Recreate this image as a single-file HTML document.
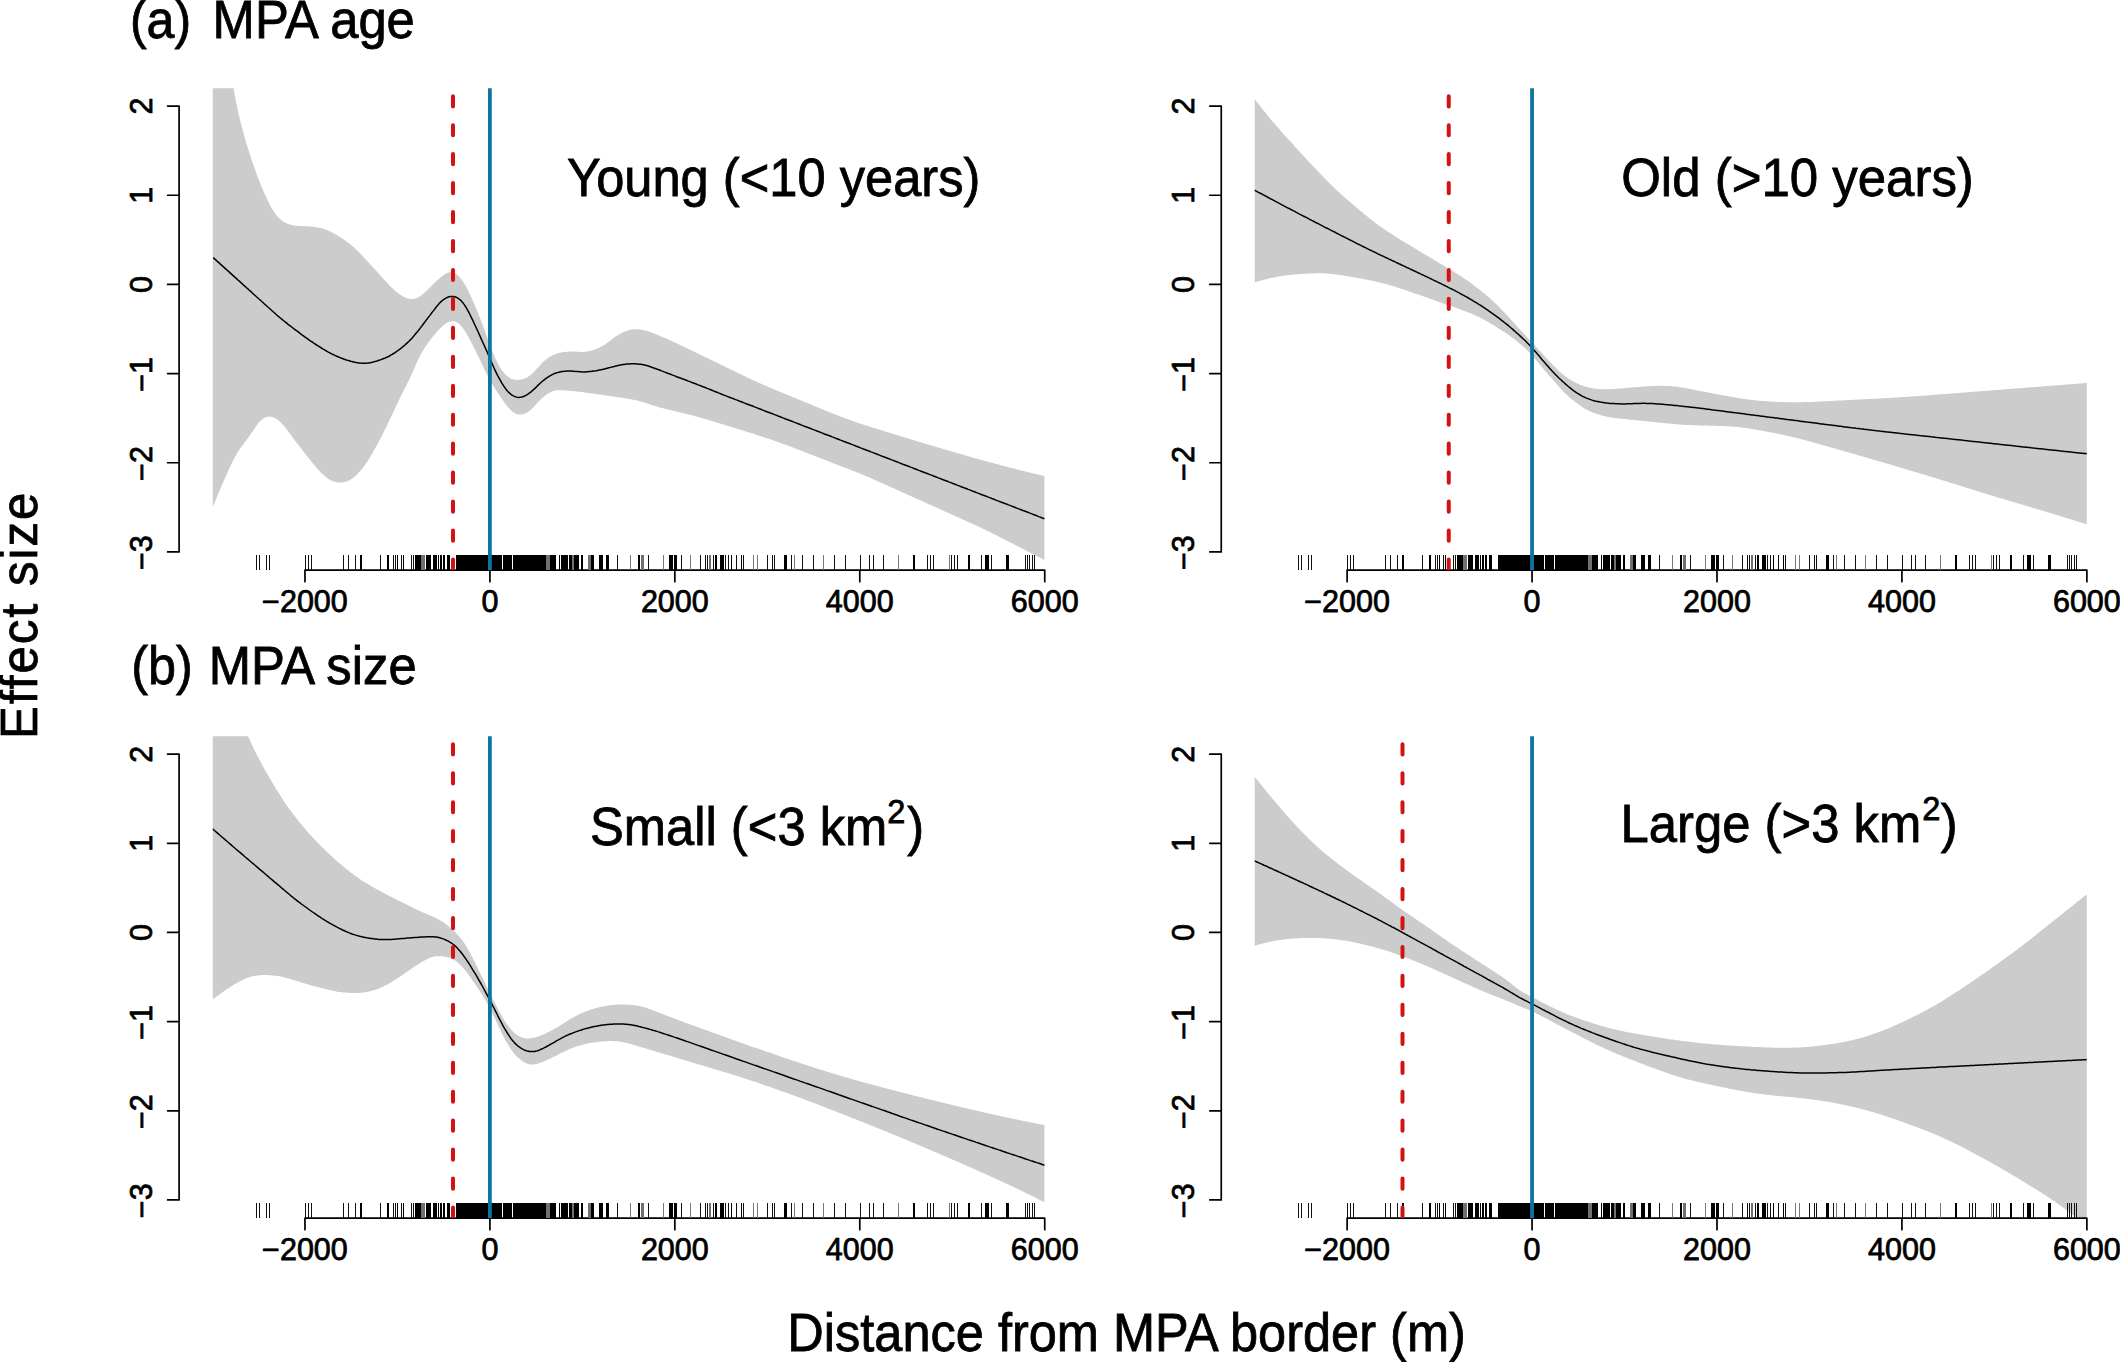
<!DOCTYPE html>
<html lang="en"><head><meta charset="utf-8"><title>MPA effect size</title>
<style>html,body{margin:0;padding:0;background:#fff}svg{display:block}text{font-family:"Liberation Sans",Arial,Helvetica,sans-serif;fill:#000;stroke:#000;stroke-width:0.8px}text.tk{stroke-width:0.75px}</style></head><body>
<svg width="2120" height="1362" viewBox="0 0 2120 1362">
<rect width="2120" height="1362" fill="#fff"/>
<defs>
<clipPath id="cTL"><rect x="212.50" y="88.25" width="832.30" height="481.25"/></clipPath>
<clipPath id="cTR"><rect x="1254.65" y="88.25" width="832.30" height="481.25"/></clipPath>
<clipPath id="cBL"><rect x="212.50" y="736.30" width="832.30" height="481.25"/></clipPath>
<clipPath id="cBR"><rect x="1254.65" y="736.30" width="832.30" height="481.25"/></clipPath>
</defs>
<g clip-path="url(#cTL)">
<path d="M212.5 -59.7L213.9 -51.2L215.3 -42.5L216.7 -33.6L218.1 -24.6L219.4 -15.3L220.8 -5.9L222.2 3.8L223.6 13.8L225.0 24.1L226.4 34.7L227.8 45.6L229.2 56.4L230.6 66.9L231.9 76.9L233.3 86.1L234.7 94.4L236.1 101.9L237.5 108.7L238.9 114.9L240.3 120.8L241.7 126.3L243.1 131.6L244.4 136.6L245.8 141.4L247.2 146.0L248.6 150.5L250.0 154.8L251.4 159.0L252.8 163.1L254.2 167.1L255.6 171.0L256.9 174.8L258.3 178.6L259.7 182.1L261.1 185.6L262.5 189.0L263.9 192.2L265.3 195.3L266.7 198.3L268.1 201.2L269.4 203.9L270.8 206.5L272.2 208.9L273.6 211.2L275.0 213.2L276.4 215.1L277.8 216.7L279.2 218.2L280.6 219.5L281.9 220.6L283.3 221.6L284.7 222.4L286.1 223.1L287.5 223.7L288.9 224.2L290.3 224.6L291.7 225.0L293.1 225.3L294.4 225.5L295.8 225.7L297.2 225.8L298.6 225.9L300.0 226.0L301.4 226.1L302.8 226.2L304.2 226.2L305.6 226.3L307.0 226.3L308.3 226.4L309.7 226.5L311.1 226.6L312.5 226.8L313.9 226.9L315.3 227.1L316.7 227.3L318.1 227.5L319.5 227.8L320.8 228.1L322.2 228.4L323.6 228.8L325.0 229.3L326.4 229.8L327.8 230.4L329.2 231.1L330.6 231.7L332.0 232.5L333.3 233.2L334.7 234.0L336.1 234.8L337.5 235.6L338.9 236.4L340.3 237.3L341.7 238.2L343.1 239.1L344.5 240.0L345.8 240.9L347.2 241.9L348.6 243.0L350.0 244.1L351.4 245.2L352.8 246.4L354.2 247.6L355.6 248.9L357.0 250.2L358.3 251.5L359.7 252.9L361.1 254.4L362.5 255.9L363.9 257.4L365.3 258.9L366.7 260.4L368.1 261.9L369.5 263.5L370.8 265.0L372.2 266.5L373.6 268.1L375.0 269.6L376.4 271.1L377.8 272.6L379.2 274.2L380.6 275.7L382.0 277.2L383.3 278.7L384.7 280.3L386.1 281.8L387.5 283.3L388.9 284.7L390.3 286.2L391.7 287.6L393.1 288.9L394.5 290.2L395.8 291.4L397.2 292.5L398.6 293.6L400.0 294.6L401.4 295.5L402.8 296.3L404.2 297.1L405.6 297.7L407.0 298.3L408.3 298.7L409.7 298.9L411.1 299.1L412.5 299.1L413.9 298.9L415.3 298.6L416.7 298.1L418.1 297.4L419.5 296.6L420.8 295.7L422.2 294.6L423.6 293.5L425.0 292.2L426.4 290.9L427.8 289.6L429.2 288.3L430.6 286.9L432.0 285.5L433.3 284.2L434.7 282.8L436.1 281.4L437.5 280.1L438.9 278.9L440.3 277.6L441.7 276.5L443.1 275.4L444.5 274.5L445.8 273.6L447.2 273.0L448.6 272.5L450.0 272.2L451.4 272.2L452.8 272.4L454.2 272.9L455.6 273.6L457.0 274.6L458.3 275.8L459.7 277.2L461.1 278.9L462.5 280.8L463.9 283.0L465.3 285.3L466.7 287.8L468.1 290.5L469.5 293.4L470.9 296.3L472.2 299.4L473.6 302.6L475.0 305.8L476.4 309.2L477.8 312.6L479.2 316.0L480.6 319.5L482.0 323.1L483.4 326.8L484.7 330.6L486.1 334.4L487.5 338.3L488.9 342.1L490.3 345.9L491.7 349.6L493.1 353.1L494.5 356.3L495.9 359.4L497.2 362.2L498.6 364.8L500.0 367.2L501.4 369.4L502.8 371.4L504.2 373.1L505.6 374.7L507.0 376.0L508.4 377.1L509.7 378.0L511.1 378.7L512.5 379.2L513.9 379.6L515.3 379.8L516.7 379.9L518.1 379.9L519.5 379.8L520.9 379.6L522.2 379.3L523.6 378.8L525.0 378.3L526.4 377.7L527.8 376.9L529.2 376.1L530.6 375.0L532.0 373.8L533.4 372.5L534.7 371.1L536.1 369.5L537.5 368.0L538.9 366.4L540.3 364.9L541.7 363.4L543.1 362.1L544.5 360.8L545.9 359.7L547.2 358.6L548.6 357.7L550.0 356.8L551.4 356.0L552.8 355.3L554.2 354.6L555.6 354.0L557.0 353.5L558.4 353.1L559.7 352.8L561.1 352.5L562.5 352.3L563.9 352.1L565.3 351.9L566.7 351.8L568.1 351.7L569.5 351.6L570.9 351.6L572.2 351.6L573.6 351.6L575.0 351.6L576.4 351.7L577.8 351.7L579.2 351.8L580.6 351.9L582.0 351.9L583.4 351.9L584.7 351.8L586.1 351.7L587.5 351.5L588.9 351.3L590.3 351.0L591.7 350.6L593.1 350.2L594.5 349.7L595.9 349.2L597.2 348.6L598.6 348.0L600.0 347.3L601.4 346.5L602.8 345.7L604.2 344.9L605.6 343.9L607.0 342.9L608.4 341.9L609.7 340.9L611.1 339.9L612.5 338.8L613.9 337.8L615.3 336.8L616.7 335.9L618.1 335.0L619.5 334.2L620.9 333.5L622.2 332.8L623.6 332.1L625.0 331.5L626.4 331.0L627.8 330.5L629.2 330.1L630.6 329.7L632.0 329.5L633.4 329.3L634.8 329.2L636.1 329.2L637.5 329.2L638.9 329.3L640.3 329.5L641.7 329.8L643.1 330.0L644.5 330.4L645.9 330.7L647.3 331.1L648.6 331.5L650.0 332.0L651.4 332.4L652.8 332.9L654.2 333.5L655.6 334.0L657.0 334.6L658.4 335.2L659.8 335.8L661.1 336.4L662.5 336.9L663.9 337.5L665.3 338.1L666.7 338.7L668.1 339.4L669.5 340.0L670.9 340.6L672.3 341.2L673.6 341.9L675.0 342.5L676.4 343.2L677.8 343.8L679.2 344.5L680.6 345.2L682.0 345.8L683.4 346.5L684.8 347.2L686.1 347.8L687.5 348.5L688.9 349.2L690.3 349.8L691.7 350.5L693.1 351.2L694.5 351.8L695.9 352.5L697.3 353.2L698.6 353.8L700.0 354.5L701.4 355.2L702.8 355.9L704.2 356.5L705.6 357.2L707.0 357.9L708.4 358.6L709.8 359.2L711.1 359.9L712.5 360.6L713.9 361.3L715.3 361.9L716.7 362.6L718.1 363.3L719.5 364.0L720.9 364.7L722.3 365.3L723.6 366.0L725.0 366.7L726.4 367.4L727.8 368.0L729.2 368.7L730.6 369.4L732.0 370.1L733.4 370.7L734.8 371.4L736.1 372.1L737.5 372.8L738.9 373.4L740.3 374.1L741.7 374.8L743.1 375.4L744.5 376.1L745.9 376.8L747.3 377.4L748.6 378.1L750.0 378.8L751.4 379.4L752.8 380.1L754.2 380.7L755.6 381.3L757.0 382.0L758.4 382.6L759.8 383.2L761.1 383.8L762.5 384.4L763.9 385.0L765.3 385.6L766.7 386.2L768.1 386.8L769.5 387.4L770.9 388.0L772.3 388.6L773.6 389.2L775.0 389.8L776.4 390.3L777.8 390.9L779.2 391.5L780.6 392.1L782.0 392.6L783.4 393.2L784.8 393.8L786.1 394.3L787.5 394.9L788.9 395.5L790.3 396.0L791.7 396.6L793.1 397.2L794.5 397.7L795.9 398.3L797.3 398.9L798.7 399.4L800.0 400.0L801.4 400.6L802.8 401.2L804.2 401.7L805.6 402.3L807.0 402.9L808.4 403.5L809.8 404.1L811.2 404.6L812.5 405.2L813.9 405.8L815.3 406.4L816.7 407.0L818.1 407.5L819.5 408.1L820.9 408.7L822.3 409.2L823.7 409.8L825.0 410.4L826.4 410.9L827.8 411.5L829.2 412.1L830.6 412.6L832.0 413.2L833.4 413.7L834.8 414.3L836.2 414.8L837.5 415.3L838.9 415.9L840.3 416.4L841.7 416.9L843.1 417.5L844.5 418.0L845.9 418.5L847.3 419.0L848.7 419.5L850.0 420.0L851.4 420.5L852.8 421.0L854.2 421.5L855.6 421.9L857.0 422.4L858.4 422.9L859.8 423.4L861.2 423.8L862.5 424.3L863.9 424.8L865.3 425.2L866.7 425.7L868.1 426.1L869.5 426.6L870.9 427.0L872.3 427.4L873.7 427.9L875.0 428.3L876.4 428.8L877.8 429.2L879.2 429.6L880.6 430.1L882.0 430.5L883.4 430.9L884.8 431.4L886.2 431.8L887.5 432.2L888.9 432.6L890.3 433.1L891.7 433.5L893.1 433.9L894.5 434.3L895.9 434.7L897.3 435.2L898.7 435.6L900.0 436.0L901.4 436.4L902.8 436.9L904.2 437.3L905.6 437.7L907.0 438.1L908.4 438.5L909.8 439.0L911.2 439.4L912.5 439.8L913.9 440.2L915.3 440.7L916.7 441.1L918.1 441.5L919.5 441.9L920.9 442.3L922.3 442.7L923.7 443.2L925.0 443.6L926.4 444.0L927.8 444.4L929.2 444.8L930.6 445.3L932.0 445.7L933.4 446.1L934.8 446.5L936.2 446.9L937.5 447.3L938.9 447.7L940.3 448.1L941.7 448.6L943.1 449.0L944.5 449.4L945.9 449.8L947.3 450.2L948.7 450.6L950.0 451.0L951.4 451.4L952.8 451.8L954.2 452.2L955.6 452.6L957.0 453.0L958.4 453.4L959.8 453.8L961.2 454.2L962.6 454.6L963.9 455.0L965.3 455.4L966.7 455.8L968.1 456.2L969.5 456.6L970.9 457.0L972.3 457.4L973.7 457.8L975.1 458.2L976.4 458.6L977.8 458.9L979.2 459.3L980.6 459.7L982.0 460.1L983.4 460.5L984.8 460.9L986.2 461.2L987.6 461.6L988.9 462.0L990.3 462.4L991.7 462.8L993.1 463.1L994.5 463.5L995.9 463.9L997.3 464.3L998.7 464.6L1000.1 465.0L1001.4 465.4L1002.8 465.7L1004.2 466.1L1005.6 466.5L1007.0 466.8L1008.4 467.2L1009.8 467.6L1011.2 467.9L1012.6 468.3L1013.9 468.6L1015.3 469.0L1016.7 469.3L1018.1 469.7L1019.5 470.0L1020.9 470.4L1022.3 470.7L1023.7 471.0L1025.1 471.4L1026.4 471.7L1027.8 472.1L1029.2 472.4L1030.6 472.7L1032.0 473.1L1033.4 473.4L1034.8 473.7L1036.2 474.1L1037.6 474.4L1038.9 474.7L1040.3 475.0L1041.7 475.4L1043.1 475.7L1044.5 476.0L1044.5 560.0L1043.1 559.3L1041.7 558.6L1040.3 557.8L1038.9 557.1L1037.6 556.4L1036.2 555.7L1034.8 555.0L1033.4 554.3L1032.0 553.6L1030.6 552.9L1029.2 552.2L1027.8 551.4L1026.4 550.7L1025.1 550.0L1023.7 549.3L1022.3 548.6L1020.9 547.9L1019.5 547.2L1018.1 546.5L1016.7 545.7L1015.3 545.0L1013.9 544.3L1012.6 543.6L1011.2 542.9L1009.8 542.2L1008.4 541.4L1007.0 540.7L1005.6 540.0L1004.2 539.3L1002.8 538.6L1001.4 537.9L1000.1 537.2L998.7 536.5L997.3 535.7L995.9 535.0L994.5 534.3L993.1 533.7L991.7 533.0L990.3 532.3L988.9 531.6L987.6 530.9L986.2 530.2L984.8 529.6L983.4 528.9L982.0 528.2L980.6 527.6L979.2 526.9L977.8 526.3L976.4 525.7L975.1 525.0L973.7 524.4L972.3 523.8L970.9 523.1L969.5 522.5L968.1 521.9L966.7 521.3L965.3 520.6L963.9 520.0L962.6 519.4L961.2 518.8L959.8 518.1L958.4 517.5L957.0 516.9L955.6 516.3L954.2 515.6L952.8 515.0L951.4 514.4L950.0 513.8L948.7 513.1L947.3 512.5L945.9 511.9L944.5 511.3L943.1 510.6L941.7 510.0L940.3 509.4L938.9 508.8L937.5 508.1L936.2 507.5L934.8 506.9L933.4 506.3L932.0 505.6L930.6 505.0L929.2 504.4L927.8 503.8L926.4 503.1L925.0 502.5L923.7 501.9L922.3 501.3L920.9 500.6L919.5 500.0L918.1 499.4L916.7 498.8L915.3 498.1L913.9 497.5L912.5 496.9L911.2 496.3L909.8 495.6L908.4 495.0L907.0 494.4L905.6 493.8L904.2 493.1L902.8 492.5L901.4 491.9L900.0 491.3L898.7 490.6L897.3 490.0L895.9 489.4L894.5 488.8L893.1 488.1L891.7 487.5L890.3 486.9L888.9 486.3L887.5 485.6L886.2 485.0L884.8 484.4L883.4 483.8L882.0 483.1L880.6 482.5L879.2 481.9L877.8 481.3L876.4 480.7L875.0 480.0L873.7 479.4L872.3 478.8L870.9 478.2L869.5 477.6L868.1 477.0L866.7 476.4L865.3 475.8L863.9 475.2L862.5 474.7L861.2 474.1L859.8 473.5L858.4 473.0L857.0 472.4L855.6 471.8L854.2 471.3L852.8 470.7L851.4 470.2L850.0 469.7L848.7 469.1L847.3 468.6L845.9 468.0L844.5 467.5L843.1 467.0L841.7 466.4L840.3 465.9L838.9 465.4L837.5 464.8L836.2 464.3L834.8 463.8L833.4 463.2L832.0 462.7L830.6 462.2L829.2 461.6L827.8 461.1L826.4 460.6L825.0 460.0L823.7 459.5L822.3 458.9L820.9 458.4L819.5 457.8L818.1 457.3L816.7 456.8L815.3 456.2L813.9 455.7L812.5 455.1L811.2 454.6L809.8 454.0L808.4 453.5L807.0 453.0L805.6 452.4L804.2 451.9L802.8 451.3L801.4 450.8L800.0 450.3L798.7 449.7L797.3 449.2L795.9 448.7L794.5 448.1L793.1 447.6L791.7 447.1L790.3 446.6L788.9 446.1L787.5 445.5L786.1 445.0L784.8 444.5L783.4 444.0L782.0 443.5L780.6 443.0L779.2 442.5L777.8 442.0L776.4 441.5L775.0 441.0L773.6 440.5L772.3 440.1L770.9 439.6L769.5 439.1L768.1 438.6L766.7 438.2L765.3 437.7L763.9 437.2L762.5 436.8L761.1 436.3L759.8 435.9L758.4 435.4L757.0 435.0L755.6 434.5L754.2 434.1L752.8 433.6L751.4 433.2L750.0 432.8L748.6 432.3L747.3 431.9L745.9 431.5L744.5 431.0L743.1 430.6L741.7 430.2L740.3 429.7L738.9 429.3L737.5 428.9L736.1 428.4L734.8 428.0L733.4 427.6L732.0 427.2L730.6 426.7L729.2 426.3L727.8 425.9L726.4 425.4L725.0 425.0L723.6 424.6L722.3 424.2L720.9 423.7L719.5 423.3L718.1 422.9L716.7 422.5L715.3 422.0L713.9 421.6L712.5 421.2L711.1 420.8L709.8 420.4L708.4 419.9L707.0 419.5L705.6 419.1L704.2 418.7L702.8 418.3L701.4 417.9L700.0 417.5L698.6 417.1L697.3 416.8L695.9 416.4L694.5 416.0L693.1 415.6L691.7 415.3L690.3 414.9L688.9 414.6L687.5 414.2L686.1 413.9L684.8 413.5L683.4 413.2L682.0 412.9L680.6 412.5L679.2 412.2L677.8 411.9L676.4 411.5L675.0 411.2L673.6 410.9L672.3 410.5L670.9 410.2L669.5 409.9L668.1 409.5L666.7 409.2L665.3 408.8L663.9 408.5L662.5 408.1L661.1 407.8L659.8 407.4L658.4 407.0L657.0 406.6L655.6 406.2L654.2 405.7L652.8 405.3L651.4 404.9L650.0 404.4L648.6 403.9L647.3 403.5L645.9 403.0L644.5 402.6L643.1 402.2L641.7 401.8L640.3 401.4L638.9 401.0L637.5 400.6L636.1 400.3L634.8 400.0L633.4 399.7L632.0 399.5L630.6 399.2L629.2 398.9L627.8 398.7L626.4 398.5L625.0 398.2L623.6 398.0L622.2 397.8L620.9 397.6L619.5 397.4L618.1 397.2L616.7 397.0L615.3 396.8L613.9 396.6L612.5 396.4L611.1 396.2L609.7 396.0L608.4 395.8L607.0 395.6L605.6 395.4L604.2 395.2L602.8 395.0L601.4 394.8L600.0 394.6L598.6 394.4L597.2 394.2L595.9 394.0L594.5 393.8L593.1 393.6L591.7 393.4L590.3 393.2L588.9 393.0L587.5 392.9L586.1 392.7L584.7 392.5L583.4 392.3L582.0 392.1L580.6 392.0L579.2 391.8L577.8 391.6L576.4 391.5L575.0 391.3L573.6 391.2L572.2 391.1L570.9 390.9L569.5 390.8L568.1 390.7L566.7 390.6L565.3 390.4L563.9 390.3L562.5 390.3L561.1 390.2L559.7 390.2L558.4 390.2L557.0 390.3L555.6 390.5L554.2 390.8L552.8 391.2L551.4 391.7L550.0 392.4L548.6 393.2L547.2 394.1L545.9 395.1L544.5 396.2L543.1 397.3L541.7 398.6L540.3 399.9L538.9 401.3L537.5 402.8L536.1 404.3L534.7 405.8L533.4 407.2L532.0 408.6L530.6 410.0L529.2 411.1L527.8 412.1L526.4 412.9L525.0 413.6L523.6 414.1L522.2 414.4L520.9 414.5L519.5 414.5L518.1 414.3L516.7 414.0L515.3 413.4L513.9 412.7L512.5 411.7L511.1 410.5L509.7 409.1L508.4 407.6L507.0 405.9L505.6 404.1L504.2 402.2L502.8 400.3L501.4 398.3L500.0 396.2L498.6 394.2L497.2 392.0L495.9 389.9L494.5 387.7L493.1 385.4L491.7 383.1L490.3 380.7L488.9 378.2L487.5 375.6L486.1 372.9L484.7 370.1L483.4 367.2L482.0 364.3L480.6 361.3L479.2 358.3L477.8 355.4L476.4 352.5L475.0 349.6L473.6 346.9L472.2 344.2L470.9 341.5L469.5 339.0L468.1 336.5L466.7 334.1L465.3 331.8L463.9 329.6L462.5 327.7L461.1 326.0L459.7 324.5L458.3 323.3L457.0 322.4L455.6 321.7L454.2 321.3L452.8 321.2L451.4 321.2L450.0 321.5L448.6 321.9L447.2 322.6L445.8 323.4L444.5 324.4L443.1 325.6L441.7 326.9L440.3 328.2L438.9 329.7L437.5 331.2L436.1 332.8L434.7 334.4L433.3 336.1L432.0 337.8L430.6 339.5L429.2 341.3L427.8 343.2L426.4 345.2L425.0 347.2L423.6 349.4L422.2 351.7L420.8 354.2L419.5 356.9L418.1 359.8L416.7 362.8L415.3 366.0L413.9 369.2L412.5 372.4L411.1 375.5L409.7 378.5L408.3 381.4L407.0 384.1L405.6 386.9L404.2 389.6L402.8 392.3L401.4 395.1L400.0 398.0L398.6 400.9L397.2 403.9L395.8 406.8L394.5 409.8L393.1 412.7L391.7 415.6L390.3 418.5L388.9 421.4L387.5 424.3L386.1 427.2L384.7 430.0L383.3 432.8L382.0 435.5L380.6 438.2L379.2 440.8L377.8 443.5L376.4 446.0L375.0 448.6L373.6 451.0L372.2 453.5L370.8 455.9L369.5 458.2L368.1 460.4L366.7 462.5L365.3 464.5L363.9 466.4L362.5 468.2L361.1 469.9L359.7 471.5L358.3 473.0L357.0 474.4L355.6 475.7L354.2 476.9L352.8 478.0L351.4 479.0L350.0 479.9L348.6 480.6L347.2 481.2L345.8 481.7L344.5 482.1L343.1 482.4L341.7 482.5L340.3 482.6L338.9 482.5L337.5 482.4L336.1 482.1L334.7 481.8L333.3 481.4L332.0 480.8L330.6 480.2L329.2 479.4L327.8 478.5L326.4 477.4L325.0 476.3L323.6 475.1L322.2 473.8L320.8 472.4L319.5 470.9L318.1 469.4L316.7 467.8L315.3 466.2L313.9 464.6L312.5 462.9L311.1 461.2L309.7 459.5L308.3 457.7L307.0 456.0L305.6 454.2L304.2 452.4L302.8 450.6L301.4 448.9L300.0 447.1L298.6 445.3L297.2 443.6L295.8 441.8L294.4 440.0L293.1 438.1L291.7 436.2L290.3 434.2L288.9 432.3L287.5 430.4L286.1 428.6L284.7 426.8L283.3 425.2L281.9 423.7L280.6 422.2L279.2 421.0L277.8 419.8L276.4 418.9L275.0 418.1L273.6 417.5L272.2 417.0L270.8 416.8L269.4 416.7L268.1 416.8L266.7 417.0L265.3 417.5L263.9 418.2L262.5 419.1L261.1 420.2L259.7 421.6L258.3 423.2L256.9 425.0L255.6 426.9L254.2 428.9L252.8 431.0L251.4 433.0L250.0 435.1L248.6 437.1L247.2 439.1L245.8 441.0L244.4 442.8L243.1 444.6L241.7 446.5L240.3 448.4L238.9 450.4L237.5 452.6L236.1 454.9L234.7 457.4L233.3 460.1L231.9 462.9L230.6 465.8L229.2 468.7L227.8 471.8L226.4 474.9L225.0 478.1L223.6 481.2L222.2 484.4L220.8 487.6L219.4 490.9L218.1 494.2L216.7 497.5L215.3 500.8L213.9 504.2L212.5 507.6Z" fill="#cccccc"/>
<path d="M213.2 257.6L214.6 258.9L216.0 260.1L217.4 261.4L218.8 262.6L220.1 263.9L221.5 265.1L222.9 266.4L224.3 267.6L225.7 268.9L227.1 270.1L228.5 271.4L229.9 272.6L231.2 273.9L232.6 275.1L234.0 276.4L235.4 277.6L236.8 278.9L238.2 280.2L239.6 281.4L241.0 282.7L242.3 283.9L243.7 285.2L245.1 286.4L246.5 287.7L247.9 288.9L249.3 290.2L250.7 291.4L252.1 292.7L253.4 294.0L254.8 295.2L256.2 296.5L257.6 297.7L259.0 299.0L260.4 300.2L261.8 301.5L263.2 302.7L264.5 304.0L265.9 305.3L267.3 306.5L268.7 307.8L270.1 309.0L271.5 310.3L272.9 311.5L274.3 312.7L275.7 314.0L277.0 315.2L278.4 316.4L279.8 317.5L281.2 318.7L282.6 319.8L284.0 321.0L285.4 322.1L286.8 323.2L288.1 324.3L289.5 325.4L290.9 326.4L292.3 327.5L293.7 328.6L295.1 329.6L296.5 330.7L297.9 331.7L299.2 332.7L300.6 333.8L302.0 334.8L303.4 335.8L304.8 336.8L306.2 337.8L307.6 338.8L309.0 339.8L310.3 340.8L311.7 341.7L313.1 342.7L314.5 343.6L315.9 344.5L317.3 345.4L318.7 346.3L320.1 347.2L321.4 348.0L322.8 348.9L324.2 349.7L325.6 350.5L327.0 351.3L328.4 352.1L329.8 352.8L331.2 353.6L332.6 354.3L333.9 354.9L335.3 355.6L336.7 356.2L338.1 356.8L339.5 357.4L340.9 358.0L342.3 358.5L343.7 359.0L345.0 359.5L346.4 360.0L347.8 360.4L349.2 360.8L350.6 361.2L352.0 361.6L353.4 361.9L354.8 362.2L356.1 362.5L357.5 362.7L358.9 362.9L360.3 363.1L361.7 363.2L363.1 363.2L364.5 363.3L365.9 363.2L367.2 363.1L368.6 362.9L370.0 362.7L371.4 362.5L372.8 362.1L374.2 361.8L375.6 361.4L377.0 361.0L378.3 360.5L379.7 360.0L381.1 359.6L382.5 359.0L383.9 358.5L385.3 358.0L386.7 357.3L388.1 356.7L389.5 356.0L390.8 355.2L392.2 354.4L393.6 353.5L395.0 352.6L396.4 351.6L397.8 350.7L399.2 349.6L400.6 348.6L401.9 347.5L403.3 346.4L404.7 345.2L406.1 343.9L407.5 342.6L408.9 341.3L410.3 339.9L411.7 338.4L413.0 336.9L414.4 335.3L415.8 333.6L417.2 331.9L418.6 330.2L420.0 328.4L421.4 326.6L422.8 324.8L424.1 323.0L425.5 321.1L426.9 319.3L428.3 317.4L429.7 315.6L431.1 313.7L432.5 311.9L433.9 310.1L435.3 308.3L436.6 306.5L438.0 304.9L439.4 303.3L440.8 301.9L442.2 300.7L443.6 299.6L445.0 298.6L446.4 297.8L447.7 297.2L449.1 296.8L450.5 296.5L451.9 296.4L453.3 296.5L454.7 296.8L456.1 297.3L457.5 297.9L458.8 298.8L460.2 299.9L461.6 301.3L463.0 302.9L464.4 304.8L465.8 307.0L467.2 309.3L468.6 311.8L469.9 314.5L471.3 317.3L472.7 320.2L474.1 323.2L475.5 326.3L476.9 329.3L478.3 332.3L479.7 335.4L481.0 338.4L482.4 341.5L483.8 344.5L485.2 347.6L486.6 350.7L488.0 353.9L489.4 357.2L490.8 360.4L492.2 363.7L493.5 366.8L494.9 369.9L496.3 372.8L497.7 375.6L499.1 378.2L500.5 380.7L501.9 383.1L503.3 385.3L504.6 387.3L506.0 389.2L507.4 390.9L508.8 392.4L510.2 393.7L511.6 394.8L513.0 395.7L514.4 396.4L515.7 396.9L517.1 397.2L518.5 397.4L519.9 397.3L521.3 397.1L522.7 396.8L524.1 396.2L525.5 395.6L526.8 394.8L528.2 393.9L529.6 392.9L531.0 391.8L532.4 390.6L533.8 389.4L535.2 388.1L536.6 386.7L537.9 385.4L539.3 384.0L540.7 382.7L542.1 381.5L543.5 380.4L544.9 379.3L546.3 378.2L547.7 377.3L549.1 376.4L550.4 375.6L551.8 374.8L553.2 374.1L554.6 373.5L556.0 373.0L557.4 372.6L558.8 372.2L560.2 371.9L561.5 371.6L562.9 371.4L564.3 371.3L565.7 371.2L567.1 371.1L568.5 371.1L569.9 371.1L571.3 371.1L572.6 371.2L574.0 371.3L575.4 371.4L576.8 371.5L578.2 371.6L579.6 371.7L581.0 371.8L582.4 371.9L583.7 371.9L585.1 371.9L586.5 371.8L587.9 371.7L589.3 371.6L590.7 371.5L592.1 371.3L593.5 371.1L594.8 370.9L596.2 370.7L597.6 370.4L599.0 370.1L600.4 369.9L601.8 369.6L603.2 369.2L604.6 368.9L606.0 368.6L607.3 368.2L608.7 367.8L610.1 367.5L611.5 367.1L612.9 366.7L614.3 366.4L615.7 366.0L617.1 365.7L618.4 365.4L619.8 365.1L621.2 364.9L622.6 364.6L624.0 364.4L625.4 364.2L626.8 364.1L628.2 364.0L629.5 363.9L630.9 363.8L632.3 363.8L633.7 363.8L635.1 363.8L636.5 363.9L637.9 364.0L639.3 364.2L640.6 364.3L642.0 364.5L643.4 364.8L644.8 365.1L646.2 365.4L647.6 365.8L649.0 366.3L650.4 366.7L651.7 367.2L653.1 367.7L654.5 368.2L655.9 368.7L657.3 369.3L658.7 369.8L660.1 370.3L661.5 370.9L662.9 371.4L664.2 371.9L665.6 372.4L667.0 373.0L668.4 373.5L669.8 374.0L671.2 374.5L672.6 375.1L674.0 375.6L675.3 376.1L676.7 376.7L678.1 377.2L679.5 377.7L680.9 378.2L682.3 378.8L683.7 379.3L685.1 379.8L686.4 380.3L687.8 380.9L689.2 381.4L690.6 381.9L692.0 382.5L693.4 383.0L694.8 383.5L696.2 384.0L697.5 384.6L698.9 385.1L700.3 385.6L701.7 386.2L703.1 386.7L704.5 387.3L705.9 387.8L707.3 388.4L708.6 388.9L710.0 389.5L711.4 390.0L712.8 390.6L714.2 391.2L715.6 391.7L717.0 392.3L718.4 392.9L719.8 393.4L721.1 394.0L722.5 394.5L723.9 395.1L725.3 395.6L726.7 396.1L728.1 396.7L729.5 397.2L730.9 397.8L732.2 398.3L733.6 398.8L735.0 399.4L736.4 399.9L737.8 400.4L739.2 401.0L740.6 401.5L742.0 402.0L743.3 402.6L744.7 403.1L746.1 403.7L747.5 404.2L748.9 404.7L750.3 405.3L751.7 405.8L753.1 406.3L754.4 406.9L755.8 407.4L757.2 407.9L758.6 408.5L760.0 409.0L761.4 409.5L762.8 410.1L764.2 410.6L765.5 411.2L766.9 411.7L768.3 412.2L769.7 412.8L771.1 413.3L772.5 413.8L773.9 414.4L775.3 414.9L776.7 415.4L778.0 416.0L779.4 416.5L780.8 417.0L782.2 417.6L783.6 418.1L785.0 418.7L786.4 419.2L787.8 419.7L789.1 420.3L790.5 420.8L791.9 421.3L793.3 421.9L794.7 422.4L796.1 422.9L797.5 423.5L798.9 424.0L800.2 424.5L801.6 425.1L803.0 425.6L804.4 426.2L805.8 426.7L807.2 427.2L808.6 427.8L810.0 428.3L811.3 428.8L812.7 429.4L814.1 429.9L815.5 430.4L816.9 431.0L818.3 431.5L819.7 432.0L821.1 432.6L822.4 433.1L823.8 433.7L825.2 434.2L826.6 434.7L828.0 435.3L829.4 435.8L830.8 436.3L832.2 436.9L833.6 437.4L834.9 437.9L836.3 438.5L837.7 439.0L839.1 439.5L840.5 440.1L841.9 440.6L843.3 441.2L844.7 441.7L846.0 442.2L847.4 442.8L848.8 443.3L850.2 443.8L851.6 444.4L853.0 444.9L854.4 445.4L855.8 446.0L857.1 446.5L858.5 447.0L859.9 447.6L861.3 448.1L862.7 448.7L864.1 449.2L865.5 449.7L866.9 450.3L868.2 450.8L869.6 451.3L871.0 451.9L872.4 452.4L873.8 452.9L875.2 453.5L876.6 454.0L878.0 454.5L879.4 455.1L880.7 455.6L882.1 456.2L883.5 456.7L884.9 457.2L886.3 457.8L887.7 458.3L889.1 458.8L890.5 459.4L891.8 459.9L893.2 460.4L894.6 461.0L896.0 461.5L897.4 462.0L898.8 462.6L900.2 463.1L901.6 463.7L902.9 464.2L904.3 464.7L905.7 465.3L907.1 465.8L908.5 466.3L909.9 466.9L911.3 467.4L912.7 467.9L914.0 468.5L915.4 469.0L916.8 469.5L918.2 470.1L919.6 470.6L921.0 471.2L922.4 471.7L923.8 472.2L925.1 472.8L926.5 473.3L927.9 473.8L929.3 474.4L930.7 474.9L932.1 475.4L933.5 476.0L934.9 476.5L936.3 477.0L937.6 477.6L939.0 478.1L940.4 478.6L941.8 479.2L943.2 479.7L944.6 480.3L946.0 480.8L947.4 481.3L948.7 481.9L950.1 482.4L951.5 482.9L952.9 483.5L954.3 484.0L955.7 484.5L957.1 485.1L958.5 485.6L959.8 486.1L961.2 486.7L962.6 487.2L964.0 487.8L965.4 488.3L966.8 488.8L968.2 489.4L969.6 489.9L970.9 490.4L972.3 491.0L973.7 491.5L975.1 492.0L976.5 492.6L977.9 493.1L979.3 493.6L980.7 494.2L982.0 494.7L983.4 495.3L984.8 495.8L986.2 496.3L987.6 496.9L989.0 497.4L990.4 497.9L991.8 498.5L993.2 499.0L994.5 499.5L995.9 500.1L997.3 500.6L998.7 501.1L1000.1 501.7L1001.5 502.2L1002.9 502.7L1004.3 503.3L1005.6 503.8L1007.0 504.3L1008.4 504.9L1009.8 505.4L1011.2 505.9L1012.6 506.5L1014.0 507.0L1015.4 507.5L1016.7 508.1L1018.1 508.6L1019.5 509.1L1020.9 509.7L1022.3 510.2L1023.7 510.7L1025.1 511.3L1026.5 511.8L1027.8 512.3L1029.2 512.9L1030.6 513.4L1032.0 513.9L1033.4 514.5L1034.8 515.0L1036.2 515.5L1037.6 516.1L1038.9 516.6L1040.3 517.1L1041.7 517.7L1043.1 518.2L1044.5 518.7" fill="none" stroke="#000" stroke-width="1.5"/>
</g>
<path d="M179.10 106.10V551.90M179.10 551.90H167.60M179.10 462.74H167.60M179.10 373.58H167.60M179.10 284.42H167.60M179.10 195.26H167.60M179.10 106.10H167.60M304.96 570.10H1044.74M304.96 570.10V581.70M489.90 570.10V581.70M674.84 570.10V581.70M859.79 570.10V581.70M1044.73 570.10V581.70" fill="none" stroke="#000" stroke-width="1.7" stroke-linecap="round" stroke-linejoin="round"/>
<g transform="translate(0.00 0.00)"><g shape-rendering="crispEdges" stroke="none"><path d="M256 555h1v15h-1zM259 555h1v15h-1zM266 555h1v15h-1zM269 555h1v15h-1zM305 555h1v15h-1zM308 555h1v15h-1zM311 555h1v15h-1zM343 555h1v15h-1zM348 555h1v15h-1zM355 555h1v15h-1zM380 555h1v15h-1zM393 555h1v15h-1zM395 555h1v15h-1zM401 555h1v15h-1zM411 555h1v15h-1zM413 555h1v15h-1zM617 555h1v15h-1zM648 555h1v15h-1zM681 555h1v15h-1zM700 555h1v15h-1zM705 555h1v15h-1zM707 555h1v15h-1zM713 555h1v15h-1zM725 555h1v15h-1zM728 555h1v15h-1zM736 555h1v15h-1zM741 555h1v15h-1zM743 555h1v15h-1zM767 555h1v15h-1zM772 555h1v15h-1zM774 555h1v15h-1zM791 555h1v15h-1zM802 555h1v15h-1zM813 555h1v15h-1zM834 555h1v15h-1zM845 555h1v15h-1zM860 555h1v15h-1zM869 555h1v15h-1zM873 555h1v15h-1zM883 555h1v15h-1zM927 555h1v15h-1zM930 555h1v15h-1zM933 555h1v15h-1zM951 555h1v15h-1zM954 555h1v15h-1zM957 555h1v15h-1zM981 555h1v15h-1zM991 555h1v15h-1zM1025 555h1v15h-1zM1027 555h1v15h-1zM1029 555h1v15h-1zM1032 555h1v15h-1zM1034 555h1v15h-1z" fill="#111"/><path d="M630 555h1v15h-1zM663 555h1v15h-1zM690 555h1v15h-1zM753 555h1v15h-1zM757 555h1v15h-1zM794 555h1v15h-1zM823 555h1v15h-1zM898 555h1v15h-1zM949 555h1v15h-1z" fill="#777"/><path d="M360 555h2v15h-2zM387 555h2v15h-2zM397 555h1v15h-1zM403 555h1v15h-1zM415 555h6v15h-6zM426 555h5v15h-5zM433 555h4v15h-4zM438 555h1v15h-1zM440 555h2v15h-2zM443 555h2v15h-2zM447 555h3v15h-3zM456 555h6v15h-6zM462 555h40v15h-40zM503 555h9v15h-9zM513 555h29v15h-29zM542 555h4v15h-4zM550 555h6v15h-6zM559 555h1v15h-1zM561 555h7v15h-7zM569 555h3v15h-3zM574 555h5v15h-5zM581 555h2v15h-2zM591 555h3v15h-3zM599 555h4v15h-4zM606 555h3v15h-3zM638 555h2v15h-2zM669 555h4v15h-4zM674 555h3v15h-3zM715 555h2v15h-2zM720 555h4v15h-4zM731 555h1v15h-1zM741 555h1v15h-1zM731 555h1v15h-1zM784 555h3v15h-3zM913 555h2v15h-2zM968 555h2v15h-2zM985 555h4v15h-4zM1006 555h3v15h-3z" fill="#000"/><path d="M421 555h4v15h-4zM546 555h4v15h-4zM572 555h2v15h-2zM588 555h3v15h-3zM641 555h3v15h-3zM709 555h2v15h-2z" fill="#707070"/></g></g>
<path d="M453.00 96.20V568.20" stroke="#d41212" stroke-width="4" stroke-dasharray="10.2 18.75" stroke-linecap="round" fill="none"/>
<path d="M489.90 88.25V570.00" stroke="#0c76a1" stroke-width="3.8" fill="none"/>
<text transform="translate(151.50 552.70) rotate(-90)" class="tk" font-size="30.5" text-anchor="middle">−3</text>
<text transform="translate(151.50 463.54) rotate(-90)" class="tk" font-size="30.5" text-anchor="middle">−2</text>
<text transform="translate(151.50 374.38) rotate(-90)" class="tk" font-size="30.5" text-anchor="middle">−1</text>
<text transform="translate(151.50 284.42) rotate(-90)" class="tk" font-size="30.5" text-anchor="middle">0</text>
<text transform="translate(151.50 195.26) rotate(-90)" class="tk" font-size="30.5" text-anchor="middle">1</text>
<text transform="translate(151.50 106.10) rotate(-90)" class="tk" font-size="30.5" text-anchor="middle">2</text>
<text x="304.96" y="612.00" class="tk" font-size="30.5" text-anchor="middle">−2000</text>
<text x="489.90" y="612.00" class="tk" font-size="30.5" text-anchor="middle">0</text>
<text x="674.84" y="612.00" class="tk" font-size="30.5" text-anchor="middle">2000</text>
<text x="859.79" y="612.00" class="tk" font-size="30.5" text-anchor="middle">4000</text>
<text x="1044.73" y="612.00" class="tk" font-size="30.5" text-anchor="middle">6000</text>
<g clip-path="url(#cTR)">
<path d="M1254.2 98.7L1255.6 100.5L1257.0 102.3L1258.4 104.0L1259.8 105.7L1261.2 107.5L1262.6 109.2L1264.0 110.9L1265.4 112.6L1266.8 114.3L1268.1 116.0L1269.5 117.7L1270.9 119.4L1272.3 121.0L1273.7 122.7L1275.1 124.3L1276.5 125.9L1277.9 127.5L1279.3 129.1L1280.7 130.7L1282.0 132.3L1283.4 133.9L1284.8 135.4L1286.2 137.0L1287.6 138.5L1289.0 140.1L1290.4 141.6L1291.8 143.1L1293.2 144.6L1294.6 146.2L1295.9 147.7L1297.3 149.2L1298.7 150.7L1300.1 152.2L1301.5 153.7L1302.9 155.2L1304.3 156.7L1305.7 158.2L1307.1 159.7L1308.5 161.2L1309.8 162.7L1311.2 164.2L1312.6 165.7L1314.0 167.2L1315.4 168.6L1316.8 170.1L1318.2 171.6L1319.6 173.0L1321.0 174.5L1322.4 175.9L1323.7 177.4L1325.1 178.8L1326.5 180.2L1327.9 181.6L1329.3 183.0L1330.7 184.4L1332.1 185.7L1333.5 187.1L1334.9 188.4L1336.2 189.7L1337.6 191.0L1339.0 192.3L1340.4 193.6L1341.8 194.8L1343.2 196.1L1344.6 197.3L1346.0 198.5L1347.4 199.7L1348.8 200.9L1350.1 202.1L1351.5 203.3L1352.9 204.5L1354.3 205.7L1355.7 206.8L1357.1 208.0L1358.5 209.2L1359.9 210.4L1361.3 211.5L1362.7 212.7L1364.0 213.9L1365.4 215.0L1366.8 216.1L1368.2 217.3L1369.6 218.4L1371.0 219.5L1372.4 220.6L1373.8 221.6L1375.2 222.7L1376.6 223.7L1377.9 224.7L1379.3 225.7L1380.7 226.7L1382.1 227.7L1383.5 228.7L1384.9 229.6L1386.3 230.5L1387.7 231.5L1389.1 232.4L1390.5 233.3L1391.8 234.2L1393.2 235.1L1394.6 236.0L1396.0 236.9L1397.4 237.8L1398.8 238.7L1400.2 239.5L1401.6 240.4L1403.0 241.2L1404.4 242.1L1405.7 242.9L1407.1 243.8L1408.5 244.6L1409.9 245.4L1411.3 246.3L1412.7 247.1L1414.1 247.9L1415.5 248.8L1416.9 249.6L1418.2 250.4L1419.6 251.3L1421.0 252.1L1422.4 253.0L1423.8 253.8L1425.2 254.6L1426.6 255.5L1428.0 256.3L1429.4 257.1L1430.8 258.0L1432.1 258.8L1433.5 259.6L1434.9 260.5L1436.3 261.3L1437.7 262.1L1439.1 263.0L1440.5 263.8L1441.9 264.6L1443.3 265.5L1444.7 266.3L1446.0 267.1L1447.4 268.0L1448.8 268.8L1450.2 269.6L1451.6 270.5L1453.0 271.3L1454.4 272.2L1455.8 273.0L1457.2 273.9L1458.6 274.7L1459.9 275.6L1461.3 276.5L1462.7 277.5L1464.1 278.4L1465.5 279.3L1466.9 280.3L1468.3 281.3L1469.7 282.3L1471.1 283.3L1472.5 284.3L1473.8 285.3L1475.2 286.4L1476.6 287.4L1478.0 288.5L1479.4 289.6L1480.8 290.7L1482.2 291.8L1483.6 292.9L1485.0 294.0L1486.3 295.2L1487.7 296.4L1489.1 297.6L1490.5 298.8L1491.9 300.1L1493.3 301.4L1494.7 302.7L1496.1 304.0L1497.5 305.3L1498.9 306.7L1500.2 308.1L1501.6 309.5L1503.0 311.0L1504.4 312.4L1505.8 313.9L1507.2 315.4L1508.6 317.0L1510.0 318.5L1511.4 320.0L1512.8 321.6L1514.1 323.1L1515.5 324.6L1516.9 326.2L1518.3 327.7L1519.7 329.2L1521.1 330.7L1522.5 332.2L1523.9 333.7L1525.3 335.2L1526.7 336.7L1528.0 338.2L1529.4 339.7L1530.8 341.1L1532.2 342.6L1533.6 344.1L1535.0 345.7L1536.4 347.2L1537.8 348.7L1539.2 350.2L1540.6 351.7L1541.9 353.2L1543.3 354.7L1544.7 356.2L1546.1 357.7L1547.5 359.3L1548.9 360.8L1550.3 362.3L1551.7 363.8L1553.1 365.2L1554.5 366.6L1555.8 368.0L1557.2 369.3L1558.6 370.6L1560.0 371.9L1561.4 373.1L1562.8 374.3L1564.2 375.4L1565.6 376.4L1567.0 377.5L1568.3 378.4L1569.7 379.3L1571.1 380.2L1572.5 381.0L1573.9 381.8L1575.3 382.5L1576.7 383.2L1578.1 383.8L1579.5 384.4L1580.9 385.0L1582.2 385.5L1583.6 386.0L1585.0 386.5L1586.4 386.9L1587.8 387.2L1589.2 387.6L1590.6 387.9L1592.0 388.2L1593.4 388.4L1594.8 388.6L1596.1 388.8L1597.5 388.9L1598.9 389.0L1600.3 389.1L1601.7 389.2L1603.1 389.2L1604.5 389.2L1605.9 389.3L1607.3 389.2L1608.7 389.2L1610.0 389.2L1611.4 389.1L1612.8 389.0L1614.2 389.0L1615.6 388.9L1617.0 388.8L1618.4 388.6L1619.8 388.5L1621.2 388.4L1622.6 388.3L1623.9 388.2L1625.3 388.0L1626.7 387.9L1628.1 387.8L1629.5 387.7L1630.9 387.5L1632.3 387.4L1633.7 387.3L1635.1 387.2L1636.4 387.1L1637.8 387.0L1639.2 386.9L1640.6 386.8L1642.0 386.7L1643.4 386.6L1644.8 386.5L1646.2 386.4L1647.6 386.3L1649.0 386.3L1650.3 386.2L1651.7 386.1L1653.1 386.0L1654.5 386.0L1655.9 385.9L1657.3 385.9L1658.7 385.8L1660.1 385.8L1661.5 385.8L1662.9 385.8L1664.2 385.9L1665.6 385.9L1667.0 386.0L1668.4 386.0L1669.8 386.1L1671.2 386.2L1672.6 386.4L1674.0 386.5L1675.4 386.6L1676.8 386.8L1678.1 387.0L1679.5 387.2L1680.9 387.4L1682.3 387.6L1683.7 387.8L1685.1 388.0L1686.5 388.3L1687.9 388.5L1689.3 388.8L1690.7 389.1L1692.0 389.3L1693.4 389.6L1694.8 389.9L1696.2 390.2L1697.6 390.4L1699.0 390.7L1700.4 391.0L1701.8 391.3L1703.2 391.5L1704.6 391.8L1705.9 392.1L1707.3 392.3L1708.7 392.6L1710.1 392.9L1711.5 393.1L1712.9 393.4L1714.3 393.6L1715.7 393.9L1717.1 394.2L1718.4 394.4L1719.8 394.7L1721.2 394.9L1722.6 395.2L1724.0 395.4L1725.4 395.7L1726.8 395.9L1728.2 396.2L1729.6 396.4L1731.0 396.7L1732.3 396.9L1733.7 397.2L1735.1 397.4L1736.5 397.7L1737.9 397.9L1739.3 398.2L1740.7 398.4L1742.1 398.6L1743.5 398.8L1744.9 399.1L1746.2 399.3L1747.6 399.4L1749.0 399.6L1750.4 399.8L1751.8 400.0L1753.2 400.1L1754.6 400.3L1756.0 400.4L1757.4 400.5L1758.8 400.7L1760.1 400.8L1761.5 400.9L1762.9 401.0L1764.3 401.1L1765.7 401.2L1767.1 401.3L1768.5 401.4L1769.9 401.5L1771.3 401.6L1772.7 401.7L1774.0 401.8L1775.4 401.8L1776.8 401.9L1778.2 401.9L1779.6 402.0L1781.0 402.0L1782.4 402.1L1783.8 402.1L1785.2 402.1L1786.5 402.2L1787.9 402.2L1789.3 402.2L1790.7 402.2L1792.1 402.2L1793.5 402.2L1794.9 402.2L1796.3 402.2L1797.7 402.2L1799.1 402.2L1800.4 402.2L1801.8 402.2L1803.2 402.1L1804.6 402.1L1806.0 402.1L1807.4 402.1L1808.8 402.0L1810.2 402.0L1811.6 401.9L1813.0 401.9L1814.3 401.8L1815.7 401.8L1817.1 401.7L1818.5 401.6L1819.9 401.6L1821.3 401.5L1822.7 401.4L1824.1 401.3L1825.5 401.3L1826.9 401.2L1828.2 401.1L1829.6 401.1L1831.0 401.0L1832.4 400.9L1833.8 400.8L1835.2 400.8L1836.6 400.7L1838.0 400.6L1839.4 400.5L1840.8 400.5L1842.1 400.4L1843.5 400.3L1844.9 400.2L1846.3 400.2L1847.7 400.1L1849.1 400.0L1850.5 399.9L1851.9 399.9L1853.3 399.8L1854.7 399.7L1856.0 399.7L1857.4 399.6L1858.8 399.5L1860.2 399.4L1861.6 399.4L1863.0 399.3L1864.4 399.2L1865.8 399.2L1867.2 399.1L1868.5 399.0L1869.9 398.9L1871.3 398.9L1872.7 398.8L1874.1 398.7L1875.5 398.7L1876.9 398.6L1878.3 398.5L1879.7 398.4L1881.1 398.4L1882.4 398.3L1883.8 398.2L1885.2 398.1L1886.6 398.1L1888.0 398.0L1889.4 397.9L1890.8 397.8L1892.2 397.7L1893.6 397.7L1895.0 397.6L1896.3 397.5L1897.7 397.4L1899.1 397.3L1900.5 397.2L1901.9 397.1L1903.3 397.1L1904.7 397.0L1906.1 396.9L1907.5 396.8L1908.9 396.7L1910.2 396.6L1911.6 396.5L1913.0 396.4L1914.4 396.3L1915.8 396.2L1917.2 396.1L1918.6 396.0L1920.0 395.9L1921.4 395.8L1922.8 395.7L1924.1 395.6L1925.5 395.5L1926.9 395.4L1928.3 395.3L1929.7 395.2L1931.1 395.0L1932.5 394.9L1933.9 394.8L1935.3 394.7L1936.6 394.6L1938.0 394.5L1939.4 394.4L1940.8 394.3L1942.2 394.2L1943.6 394.1L1945.0 394.0L1946.4 393.9L1947.8 393.8L1949.2 393.7L1950.5 393.6L1951.9 393.5L1953.3 393.3L1954.7 393.2L1956.1 393.1L1957.5 393.0L1958.9 392.9L1960.3 392.8L1961.7 392.7L1963.1 392.6L1964.4 392.5L1965.8 392.4L1967.2 392.3L1968.6 392.2L1970.0 392.1L1971.4 391.9L1972.8 391.8L1974.2 391.7L1975.6 391.6L1977.0 391.5L1978.3 391.4L1979.7 391.3L1981.1 391.2L1982.5 391.1L1983.9 391.0L1985.3 390.9L1986.7 390.8L1988.1 390.6L1989.5 390.5L1990.9 390.4L1992.2 390.3L1993.6 390.2L1995.0 390.1L1996.4 390.0L1997.8 389.9L1999.2 389.8L2000.6 389.7L2002.0 389.6L2003.4 389.5L2004.8 389.4L2006.1 389.3L2007.5 389.1L2008.9 389.0L2010.3 388.9L2011.7 388.8L2013.1 388.7L2014.5 388.6L2015.9 388.5L2017.3 388.4L2018.6 388.3L2020.0 388.2L2021.4 388.1L2022.8 388.0L2024.2 387.9L2025.6 387.7L2027.0 387.6L2028.4 387.5L2029.8 387.4L2031.2 387.3L2032.5 387.2L2033.9 387.1L2035.3 387.0L2036.7 386.9L2038.1 386.8L2039.5 386.7L2040.9 386.6L2042.3 386.5L2043.7 386.3L2045.1 386.2L2046.4 386.1L2047.8 386.0L2049.2 385.9L2050.6 385.8L2052.0 385.7L2053.4 385.6L2054.8 385.5L2056.2 385.4L2057.6 385.3L2059.0 385.2L2060.3 385.1L2061.7 384.9L2063.1 384.8L2064.5 384.7L2065.9 384.6L2067.3 384.5L2068.7 384.4L2070.1 384.3L2071.5 384.2L2072.9 384.1L2074.2 384.0L2075.6 383.9L2077.0 383.8L2078.4 383.6L2079.8 383.5L2081.2 383.4L2082.6 383.3L2084.0 383.2L2085.4 383.1L2086.8 383.0L2086.8 524.3L2085.4 523.8L2084.0 523.4L2082.6 523.0L2081.2 522.5L2079.8 522.1L2078.4 521.7L2077.0 521.3L2075.6 520.8L2074.2 520.4L2072.9 520.0L2071.5 519.6L2070.1 519.1L2068.7 518.7L2067.3 518.3L2065.9 517.9L2064.5 517.4L2063.1 517.0L2061.7 516.6L2060.3 516.2L2059.0 515.8L2057.6 515.3L2056.2 514.9L2054.8 514.5L2053.4 514.1L2052.0 513.6L2050.6 513.2L2049.2 512.8L2047.8 512.4L2046.4 512.0L2045.1 511.5L2043.7 511.1L2042.3 510.7L2040.9 510.3L2039.5 509.8L2038.1 509.4L2036.7 509.0L2035.3 508.6L2033.9 508.2L2032.5 507.8L2031.2 507.3L2029.8 506.9L2028.4 506.5L2027.0 506.1L2025.6 505.7L2024.2 505.3L2022.8 504.8L2021.4 504.4L2020.0 504.0L2018.6 503.6L2017.3 503.2L2015.9 502.8L2014.5 502.3L2013.1 501.9L2011.7 501.5L2010.3 501.1L2008.9 500.7L2007.5 500.3L2006.1 499.9L2004.8 499.4L2003.4 499.0L2002.0 498.6L2000.6 498.2L1999.2 497.8L1997.8 497.4L1996.4 496.9L1995.0 496.5L1993.6 496.1L1992.2 495.7L1990.9 495.3L1989.5 494.8L1988.1 494.4L1986.7 494.0L1985.3 493.6L1983.9 493.1L1982.5 492.7L1981.1 492.3L1979.7 491.9L1978.3 491.4L1977.0 491.0L1975.6 490.6L1974.2 490.1L1972.8 489.7L1971.4 489.3L1970.0 488.8L1968.6 488.4L1967.2 488.0L1965.8 487.5L1964.4 487.1L1963.1 486.7L1961.7 486.2L1960.3 485.8L1958.9 485.3L1957.5 484.9L1956.1 484.5L1954.7 484.0L1953.3 483.6L1951.9 483.2L1950.5 482.8L1949.2 482.3L1947.8 481.9L1946.4 481.5L1945.0 481.0L1943.6 480.6L1942.2 480.2L1940.8 479.8L1939.4 479.3L1938.0 478.9L1936.6 478.5L1935.3 478.1L1933.9 477.6L1932.5 477.2L1931.1 476.8L1929.7 476.4L1928.3 475.9L1926.9 475.5L1925.5 475.1L1924.1 474.7L1922.8 474.3L1921.4 473.9L1920.0 473.4L1918.6 473.0L1917.2 472.6L1915.8 472.2L1914.4 471.8L1913.0 471.3L1911.6 470.9L1910.2 470.5L1908.9 470.1L1907.5 469.7L1906.1 469.3L1904.7 468.9L1903.3 468.4L1901.9 468.0L1900.5 467.6L1899.1 467.2L1897.7 466.8L1896.3 466.4L1895.0 466.0L1893.6 465.6L1892.2 465.1L1890.8 464.7L1889.4 464.3L1888.0 463.9L1886.6 463.5L1885.2 463.1L1883.8 462.7L1882.4 462.3L1881.1 461.9L1879.7 461.5L1878.3 461.1L1876.9 460.7L1875.5 460.3L1874.1 459.9L1872.7 459.4L1871.3 459.0L1869.9 458.6L1868.5 458.2L1867.2 457.8L1865.8 457.4L1864.4 457.0L1863.0 456.6L1861.6 456.2L1860.2 455.8L1858.8 455.4L1857.4 455.0L1856.0 454.6L1854.7 454.2L1853.3 453.8L1851.9 453.4L1850.5 453.0L1849.1 452.6L1847.7 452.2L1846.3 451.8L1844.9 451.4L1843.5 451.0L1842.1 450.6L1840.8 450.2L1839.4 449.8L1838.0 449.4L1836.6 449.0L1835.2 448.6L1833.8 448.2L1832.4 447.8L1831.0 447.4L1829.6 447.0L1828.2 446.6L1826.9 446.3L1825.5 445.9L1824.1 445.5L1822.7 445.1L1821.3 444.7L1819.9 444.3L1818.5 443.9L1817.1 443.5L1815.7 443.1L1814.3 442.8L1813.0 442.4L1811.6 442.0L1810.2 441.6L1808.8 441.2L1807.4 440.8L1806.0 440.5L1804.6 440.1L1803.2 439.7L1801.8 439.3L1800.4 439.0L1799.1 438.6L1797.7 438.2L1796.3 437.9L1794.9 437.5L1793.5 437.2L1792.1 436.9L1790.7 436.5L1789.3 436.2L1787.9 435.9L1786.5 435.6L1785.2 435.3L1783.8 435.0L1782.4 434.7L1781.0 434.4L1779.6 434.1L1778.2 433.8L1776.8 433.5L1775.4 433.3L1774.0 433.0L1772.7 432.7L1771.3 432.4L1769.9 432.2L1768.5 431.9L1767.1 431.7L1765.7 431.4L1764.3 431.1L1762.9 430.9L1761.5 430.6L1760.1 430.4L1758.8 430.1L1757.4 429.9L1756.0 429.6L1754.6 429.4L1753.2 429.2L1751.8 428.9L1750.4 428.7L1749.0 428.5L1747.6 428.3L1746.2 428.1L1744.9 427.9L1743.5 427.7L1742.1 427.6L1740.7 427.4L1739.3 427.2L1737.9 427.1L1736.5 426.9L1735.1 426.8L1733.7 426.7L1732.3 426.6L1731.0 426.5L1729.6 426.4L1728.2 426.3L1726.8 426.2L1725.4 426.2L1724.0 426.1L1722.6 426.1L1721.2 426.0L1719.8 426.0L1718.4 425.9L1717.1 425.9L1715.7 425.8L1714.3 425.8L1712.9 425.8L1711.5 425.7L1710.1 425.7L1708.7 425.7L1707.3 425.6L1705.9 425.6L1704.6 425.5L1703.2 425.5L1701.8 425.5L1700.4 425.4L1699.0 425.4L1697.6 425.3L1696.2 425.3L1694.8 425.2L1693.4 425.2L1692.0 425.1L1690.7 425.1L1689.3 425.0L1687.9 425.0L1686.5 424.9L1685.1 424.9L1683.7 424.8L1682.3 424.7L1680.9 424.6L1679.5 424.5L1678.1 424.4L1676.8 424.3L1675.4 424.2L1674.0 424.0L1672.6 423.9L1671.2 423.8L1669.8 423.6L1668.4 423.5L1667.0 423.4L1665.6 423.2L1664.2 423.1L1662.9 422.9L1661.5 422.8L1660.1 422.6L1658.7 422.5L1657.3 422.4L1655.9 422.2L1654.5 422.1L1653.1 421.9L1651.7 421.8L1650.3 421.7L1649.0 421.5L1647.6 421.4L1646.2 421.2L1644.8 421.1L1643.4 421.0L1642.0 420.8L1640.6 420.7L1639.2 420.5L1637.8 420.4L1636.4 420.3L1635.1 420.1L1633.7 420.0L1632.3 419.8L1630.9 419.7L1629.5 419.6L1628.1 419.4L1626.7 419.3L1625.3 419.1L1623.9 419.0L1622.6 418.8L1621.2 418.7L1619.8 418.6L1618.4 418.4L1617.0 418.3L1615.6 418.1L1614.2 417.9L1612.8 417.7L1611.4 417.5L1610.0 417.3L1608.7 417.0L1607.3 416.7L1605.9 416.4L1604.5 416.1L1603.1 415.8L1601.7 415.4L1600.3 415.0L1598.9 414.6L1597.5 414.2L1596.1 413.8L1594.8 413.3L1593.4 412.8L1592.0 412.2L1590.6 411.6L1589.2 411.0L1587.8 410.3L1586.4 409.6L1585.0 408.8L1583.6 407.9L1582.2 407.1L1580.9 406.1L1579.5 405.2L1578.1 404.1L1576.7 403.1L1575.3 402.0L1573.9 400.9L1572.5 399.8L1571.1 398.7L1569.7 397.5L1568.3 396.3L1567.0 395.0L1565.6 393.7L1564.2 392.4L1562.8 390.9L1561.4 389.4L1560.0 387.9L1558.6 386.3L1557.2 384.7L1555.8 383.1L1554.5 381.5L1553.1 379.9L1551.7 378.3L1550.3 376.8L1548.9 375.2L1547.5 373.6L1546.1 372.0L1544.7 370.4L1543.3 368.7L1541.9 367.1L1540.6 365.4L1539.2 363.8L1537.8 362.1L1536.4 360.4L1535.0 358.7L1533.6 357.0L1532.2 355.4L1530.8 353.9L1529.4 352.4L1528.0 351.0L1526.7 349.7L1525.3 348.4L1523.9 347.1L1522.5 345.9L1521.1 344.7L1519.7 343.5L1518.3 342.4L1516.9 341.2L1515.5 340.1L1514.1 339.0L1512.8 337.9L1511.4 336.9L1510.0 335.9L1508.6 334.9L1507.2 334.0L1505.8 333.0L1504.4 332.1L1503.0 331.2L1501.6 330.3L1500.2 329.5L1498.9 328.6L1497.5 327.7L1496.1 326.8L1494.7 326.0L1493.3 325.1L1491.9 324.2L1490.5 323.4L1489.1 322.6L1487.7 321.7L1486.3 320.9L1485.0 320.2L1483.6 319.4L1482.2 318.7L1480.8 318.0L1479.4 317.3L1478.0 316.6L1476.6 316.0L1475.2 315.3L1473.8 314.7L1472.5 314.1L1471.1 313.6L1469.7 313.0L1468.3 312.4L1466.9 311.9L1465.5 311.3L1464.1 310.8L1462.7 310.3L1461.3 309.8L1459.9 309.3L1458.6 308.8L1457.2 308.3L1455.8 307.8L1454.4 307.3L1453.0 306.8L1451.6 306.3L1450.2 305.8L1448.8 305.3L1447.4 304.9L1446.0 304.4L1444.7 303.9L1443.3 303.4L1441.9 302.9L1440.5 302.4L1439.1 301.9L1437.7 301.4L1436.3 301.0L1434.9 300.5L1433.5 300.0L1432.1 299.5L1430.8 299.0L1429.4 298.5L1428.0 298.0L1426.6 297.6L1425.2 297.1L1423.8 296.6L1422.4 296.1L1421.0 295.6L1419.6 295.1L1418.2 294.6L1416.9 294.2L1415.5 293.7L1414.1 293.2L1412.7 292.7L1411.3 292.2L1409.9 291.7L1408.5 291.2L1407.1 290.7L1405.7 290.3L1404.4 289.8L1403.0 289.3L1401.6 288.8L1400.2 288.4L1398.8 287.9L1397.4 287.5L1396.0 287.0L1394.6 286.6L1393.2 286.2L1391.8 285.8L1390.5 285.4L1389.1 285.0L1387.7 284.6L1386.3 284.2L1384.9 283.8L1383.5 283.4L1382.1 283.1L1380.7 282.7L1379.3 282.4L1377.9 282.0L1376.6 281.7L1375.2 281.4L1373.8 281.1L1372.4 280.8L1371.0 280.5L1369.6 280.2L1368.2 279.9L1366.8 279.7L1365.4 279.4L1364.0 279.1L1362.7 278.9L1361.3 278.6L1359.9 278.4L1358.5 278.1L1357.1 277.9L1355.7 277.6L1354.3 277.4L1352.9 277.1L1351.5 276.9L1350.1 276.6L1348.8 276.4L1347.4 276.2L1346.0 275.9L1344.6 275.7L1343.2 275.5L1341.8 275.3L1340.4 275.1L1339.0 274.9L1337.6 274.7L1336.2 274.5L1334.9 274.3L1333.5 274.2L1332.1 274.0L1330.7 273.9L1329.3 273.7L1327.9 273.6L1326.5 273.5L1325.1 273.5L1323.7 273.4L1322.4 273.3L1321.0 273.3L1319.6 273.3L1318.2 273.3L1316.8 273.3L1315.4 273.3L1314.0 273.4L1312.6 273.4L1311.2 273.5L1309.8 273.5L1308.5 273.6L1307.1 273.7L1305.7 273.7L1304.3 273.8L1302.9 273.9L1301.5 274.0L1300.1 274.1L1298.7 274.2L1297.3 274.3L1295.9 274.4L1294.6 274.5L1293.2 274.6L1291.8 274.8L1290.4 274.9L1289.0 275.1L1287.6 275.2L1286.2 275.4L1284.8 275.6L1283.4 275.8L1282.0 276.0L1280.7 276.2L1279.3 276.4L1277.9 276.6L1276.5 276.9L1275.1 277.2L1273.7 277.4L1272.3 277.7L1270.9 278.0L1269.5 278.3L1268.1 278.7L1266.8 279.0L1265.4 279.4L1264.0 279.7L1262.6 280.1L1261.2 280.5L1259.8 280.9L1258.4 281.3L1257.0 281.7L1255.6 282.1L1254.2 282.5Z" fill="#cccccc"/>
<path d="M1254.2 190.0L1255.6 190.8L1257.0 191.5L1258.4 192.3L1259.8 193.0L1261.2 193.7L1262.6 194.5L1264.0 195.2L1265.4 196.0L1266.8 196.7L1268.1 197.5L1269.5 198.2L1270.9 199.0L1272.3 199.7L1273.7 200.4L1275.1 201.2L1276.5 201.9L1277.9 202.7L1279.3 203.4L1280.7 204.1L1282.0 204.9L1283.4 205.6L1284.8 206.3L1286.2 207.1L1287.6 207.8L1289.0 208.5L1290.4 209.2L1291.8 210.0L1293.2 210.7L1294.6 211.4L1295.9 212.2L1297.3 212.9L1298.7 213.6L1300.1 214.3L1301.5 215.1L1302.9 215.8L1304.3 216.5L1305.7 217.2L1307.1 217.9L1308.5 218.7L1309.8 219.4L1311.2 220.1L1312.6 220.8L1314.0 221.5L1315.4 222.3L1316.8 223.0L1318.2 223.7L1319.6 224.4L1321.0 225.1L1322.4 225.8L1323.7 226.6L1325.1 227.3L1326.5 228.0L1327.9 228.7L1329.3 229.4L1330.7 230.1L1332.1 230.8L1333.5 231.5L1334.9 232.2L1336.2 233.0L1337.6 233.7L1339.0 234.4L1340.4 235.1L1341.8 235.8L1343.2 236.5L1344.6 237.2L1346.0 237.9L1347.4 238.6L1348.8 239.3L1350.1 240.0L1351.5 240.7L1352.9 241.4L1354.3 242.1L1355.7 242.9L1357.1 243.6L1358.5 244.3L1359.9 244.9L1361.3 245.6L1362.7 246.3L1364.0 247.0L1365.4 247.7L1366.8 248.4L1368.2 249.1L1369.6 249.8L1371.0 250.4L1372.4 251.1L1373.8 251.8L1375.2 252.4L1376.6 253.1L1377.9 253.8L1379.3 254.5L1380.7 255.1L1382.1 255.8L1383.5 256.4L1384.9 257.1L1386.3 257.8L1387.7 258.4L1389.1 259.1L1390.5 259.7L1391.8 260.4L1393.2 261.0L1394.6 261.7L1396.0 262.4L1397.4 263.0L1398.8 263.7L1400.2 264.3L1401.6 265.0L1403.0 265.6L1404.4 266.3L1405.7 266.9L1407.1 267.6L1408.5 268.2L1409.9 268.9L1411.3 269.5L1412.7 270.2L1414.1 270.8L1415.5 271.5L1416.9 272.1L1418.2 272.8L1419.6 273.4L1421.0 274.1L1422.4 274.8L1423.8 275.4L1425.2 276.1L1426.6 276.7L1428.0 277.4L1429.4 278.1L1430.8 278.7L1432.1 279.4L1433.5 280.1L1434.9 280.7L1436.3 281.4L1437.7 282.1L1439.1 282.8L1440.5 283.4L1441.9 284.1L1443.3 284.8L1444.7 285.5L1446.0 286.2L1447.4 286.9L1448.8 287.6L1450.2 288.3L1451.6 289.0L1453.0 289.7L1454.4 290.4L1455.8 291.1L1457.2 291.9L1458.6 292.6L1459.9 293.3L1461.3 294.1L1462.7 294.9L1464.1 295.6L1465.5 296.4L1466.9 297.2L1468.3 298.0L1469.7 298.8L1471.1 299.6L1472.5 300.4L1473.8 301.3L1475.2 302.1L1476.6 302.9L1478.0 303.8L1479.4 304.7L1480.8 305.5L1482.2 306.4L1483.6 307.3L1485.0 308.3L1486.3 309.2L1487.7 310.1L1489.1 311.1L1490.5 312.1L1491.9 313.1L1493.3 314.1L1494.7 315.1L1496.1 316.1L1497.5 317.1L1498.9 318.2L1500.2 319.2L1501.6 320.3L1503.0 321.4L1504.4 322.5L1505.8 323.6L1507.2 324.7L1508.6 325.8L1510.0 327.0L1511.4 328.2L1512.8 329.4L1514.1 330.6L1515.5 331.8L1516.9 333.1L1518.3 334.3L1519.7 335.6L1521.1 336.9L1522.5 338.2L1523.9 339.5L1525.3 340.8L1526.7 342.2L1528.0 343.6L1529.4 345.0L1530.8 346.5L1532.2 348.0L1533.6 349.6L1535.0 351.2L1536.4 352.8L1537.8 354.5L1539.2 356.1L1540.6 357.7L1541.9 359.4L1543.3 361.0L1544.7 362.6L1546.1 364.2L1547.5 365.8L1548.9 367.4L1550.3 369.0L1551.7 370.5L1553.1 372.0L1554.5 373.5L1555.8 374.9L1557.2 376.3L1558.6 377.7L1560.0 379.0L1561.4 380.3L1562.8 381.6L1564.2 382.8L1565.6 384.1L1567.0 385.3L1568.3 386.5L1569.7 387.6L1571.1 388.7L1572.5 389.8L1573.9 390.8L1575.3 391.8L1576.7 392.8L1578.1 393.7L1579.5 394.5L1580.9 395.3L1582.2 396.1L1583.6 396.8L1585.0 397.4L1586.4 398.1L1587.8 398.6L1589.2 399.1L1590.6 399.6L1592.0 400.1L1593.4 400.5L1594.8 400.9L1596.1 401.2L1597.5 401.5L1598.9 401.8L1600.3 402.1L1601.7 402.3L1603.1 402.5L1604.5 402.7L1605.9 402.9L1607.3 403.1L1608.7 403.2L1610.0 403.4L1611.4 403.5L1612.8 403.6L1614.2 403.6L1615.6 403.7L1617.0 403.8L1618.4 403.8L1619.8 403.8L1621.2 403.9L1622.6 403.9L1623.9 403.9L1625.3 403.9L1626.7 403.8L1628.1 403.8L1629.5 403.8L1630.9 403.7L1632.3 403.7L1633.7 403.6L1635.1 403.5L1636.4 403.5L1637.8 403.4L1639.2 403.4L1640.6 403.4L1642.0 403.3L1643.4 403.3L1644.8 403.3L1646.2 403.4L1647.6 403.4L1649.0 403.4L1650.3 403.5L1651.7 403.6L1653.1 403.6L1654.5 403.7L1655.9 403.8L1657.3 403.9L1658.7 404.0L1660.1 404.1L1661.5 404.2L1662.9 404.3L1664.2 404.4L1665.6 404.6L1667.0 404.7L1668.4 404.8L1669.8 405.0L1671.2 405.1L1672.6 405.2L1674.0 405.4L1675.4 405.5L1676.8 405.6L1678.1 405.8L1679.5 405.9L1680.9 406.1L1682.3 406.2L1683.7 406.4L1685.1 406.5L1686.5 406.7L1687.9 406.8L1689.3 407.0L1690.7 407.2L1692.0 407.3L1693.4 407.5L1694.8 407.6L1696.2 407.8L1697.6 408.0L1699.0 408.1L1700.4 408.3L1701.8 408.5L1703.2 408.6L1704.6 408.8L1705.9 409.0L1707.3 409.2L1708.7 409.3L1710.1 409.5L1711.5 409.7L1712.9 409.9L1714.3 410.1L1715.7 410.2L1717.1 410.4L1718.4 410.6L1719.8 410.8L1721.2 411.0L1722.6 411.1L1724.0 411.3L1725.4 411.5L1726.8 411.7L1728.2 411.9L1729.6 412.0L1731.0 412.2L1732.3 412.4L1733.7 412.6L1735.1 412.8L1736.5 412.9L1737.9 413.1L1739.3 413.3L1740.7 413.5L1742.1 413.6L1743.5 413.8L1744.9 414.0L1746.2 414.2L1747.6 414.4L1749.0 414.5L1750.4 414.7L1751.8 414.9L1753.2 415.1L1754.6 415.3L1756.0 415.4L1757.4 415.6L1758.8 415.8L1760.1 416.0L1761.5 416.2L1762.9 416.3L1764.3 416.5L1765.7 416.7L1767.1 416.9L1768.5 417.1L1769.9 417.2L1771.3 417.4L1772.7 417.6L1774.0 417.8L1775.4 418.0L1776.8 418.1L1778.2 418.3L1779.6 418.5L1781.0 418.7L1782.4 418.8L1783.8 419.0L1785.2 419.2L1786.5 419.4L1787.9 419.6L1789.3 419.7L1790.7 419.9L1792.1 420.1L1793.5 420.3L1794.9 420.5L1796.3 420.6L1797.7 420.8L1799.1 421.0L1800.4 421.2L1801.8 421.4L1803.2 421.5L1804.6 421.7L1806.0 421.9L1807.4 422.1L1808.8 422.2L1810.2 422.4L1811.6 422.6L1813.0 422.8L1814.3 423.0L1815.7 423.1L1817.1 423.3L1818.5 423.5L1819.9 423.7L1821.3 423.9L1822.7 424.0L1824.1 424.2L1825.5 424.4L1826.9 424.6L1828.2 424.7L1829.6 424.9L1831.0 425.1L1832.4 425.3L1833.8 425.5L1835.2 425.6L1836.6 425.8L1838.0 426.0L1839.4 426.2L1840.8 426.3L1842.1 426.5L1843.5 426.7L1844.9 426.9L1846.3 427.0L1847.7 427.2L1849.1 427.4L1850.5 427.6L1851.9 427.7L1853.3 427.9L1854.7 428.1L1856.0 428.3L1857.4 428.4L1858.8 428.6L1860.2 428.8L1861.6 428.9L1863.0 429.1L1864.4 429.3L1865.8 429.4L1867.2 429.6L1868.5 429.8L1869.9 429.9L1871.3 430.1L1872.7 430.3L1874.1 430.4L1875.5 430.6L1876.9 430.7L1878.3 430.9L1879.7 431.1L1881.1 431.2L1882.4 431.4L1883.8 431.5L1885.2 431.7L1886.6 431.9L1888.0 432.0L1889.4 432.2L1890.8 432.3L1892.2 432.5L1893.6 432.7L1895.0 432.8L1896.3 433.0L1897.7 433.1L1899.1 433.3L1900.5 433.4L1901.9 433.6L1903.3 433.7L1904.7 433.9L1906.1 434.1L1907.5 434.2L1908.9 434.4L1910.2 434.5L1911.6 434.7L1913.0 434.8L1914.4 435.0L1915.8 435.1L1917.2 435.3L1918.6 435.4L1920.0 435.6L1921.4 435.7L1922.8 435.9L1924.1 436.0L1925.5 436.2L1926.9 436.3L1928.3 436.5L1929.7 436.6L1931.1 436.8L1932.5 436.9L1933.9 437.1L1935.3 437.3L1936.6 437.4L1938.0 437.6L1939.4 437.7L1940.8 437.9L1942.2 438.0L1943.6 438.2L1945.0 438.3L1946.4 438.5L1947.8 438.6L1949.2 438.8L1950.5 438.9L1951.9 439.1L1953.3 439.2L1954.7 439.4L1956.1 439.5L1957.5 439.7L1958.9 439.8L1960.3 440.0L1961.7 440.1L1963.1 440.3L1964.4 440.4L1965.8 440.6L1967.2 440.7L1968.6 440.9L1970.0 441.1L1971.4 441.2L1972.8 441.4L1974.2 441.5L1975.6 441.7L1977.0 441.8L1978.3 442.0L1979.7 442.1L1981.1 442.3L1982.5 442.4L1983.9 442.6L1985.3 442.7L1986.7 442.9L1988.1 443.0L1989.5 443.2L1990.9 443.3L1992.2 443.5L1993.6 443.7L1995.0 443.8L1996.4 444.0L1997.8 444.1L1999.2 444.3L2000.6 444.4L2002.0 444.6L2003.4 444.7L2004.8 444.9L2006.1 445.0L2007.5 445.2L2008.9 445.3L2010.3 445.5L2011.7 445.6L2013.1 445.8L2014.5 445.9L2015.9 446.1L2017.3 446.2L2018.6 446.4L2020.0 446.5L2021.4 446.7L2022.8 446.9L2024.2 447.0L2025.6 447.2L2027.0 447.3L2028.4 447.5L2029.8 447.6L2031.2 447.8L2032.5 447.9L2033.9 448.1L2035.3 448.2L2036.7 448.4L2038.1 448.5L2039.5 448.7L2040.9 448.8L2042.3 449.0L2043.7 449.1L2045.1 449.3L2046.4 449.4L2047.8 449.6L2049.2 449.7L2050.6 449.9L2052.0 450.0L2053.4 450.2L2054.8 450.3L2056.2 450.5L2057.6 450.6L2059.0 450.8L2060.3 450.9L2061.7 451.1L2063.1 451.2L2064.5 451.4L2065.9 451.5L2067.3 451.7L2068.7 451.8L2070.1 452.0L2071.5 452.1L2072.9 452.3L2074.2 452.4L2075.6 452.6L2077.0 452.7L2078.4 452.9L2079.8 453.0L2081.2 453.2L2082.6 453.3L2084.0 453.5L2085.4 453.6L2086.8 453.7" fill="none" stroke="#000" stroke-width="1.5"/>
</g>
<path d="M1221.25 106.10V551.90M1221.25 551.90H1209.75M1221.25 462.74H1209.75M1221.25 373.58H1209.75M1221.25 284.42H1209.75M1221.25 195.26H1209.75M1221.25 106.10H1209.75M1347.11 570.10H2086.89M1347.11 570.10V581.70M1532.05 570.10V581.70M1716.99 570.10V581.70M1901.94 570.10V581.70M2086.88 570.10V581.70" fill="none" stroke="#000" stroke-width="1.7" stroke-linecap="round" stroke-linejoin="round"/>
<g transform="translate(1042.15 0.00)"><g shape-rendering="crispEdges" stroke="none"><path d="M256 555h1v15h-1zM259 555h1v15h-1zM266 555h1v15h-1zM269 555h1v15h-1zM305 555h1v15h-1zM308 555h1v15h-1zM311 555h1v15h-1zM343 555h1v15h-1zM348 555h1v15h-1zM355 555h1v15h-1zM380 555h1v15h-1zM393 555h1v15h-1zM395 555h1v15h-1zM401 555h1v15h-1zM411 555h1v15h-1zM413 555h1v15h-1zM617 555h1v15h-1zM648 555h1v15h-1zM681 555h1v15h-1zM700 555h1v15h-1zM705 555h1v15h-1zM707 555h1v15h-1zM713 555h1v15h-1zM725 555h1v15h-1zM728 555h1v15h-1zM736 555h1v15h-1zM741 555h1v15h-1zM743 555h1v15h-1zM767 555h1v15h-1zM772 555h1v15h-1zM774 555h1v15h-1zM791 555h1v15h-1zM802 555h1v15h-1zM813 555h1v15h-1zM834 555h1v15h-1zM845 555h1v15h-1zM860 555h1v15h-1zM869 555h1v15h-1zM873 555h1v15h-1zM883 555h1v15h-1zM927 555h1v15h-1zM930 555h1v15h-1zM933 555h1v15h-1zM951 555h1v15h-1zM954 555h1v15h-1zM957 555h1v15h-1zM981 555h1v15h-1zM991 555h1v15h-1zM1025 555h1v15h-1zM1027 555h1v15h-1zM1029 555h1v15h-1zM1032 555h1v15h-1zM1034 555h1v15h-1z" fill="#111"/><path d="M630 555h1v15h-1zM663 555h1v15h-1zM690 555h1v15h-1zM753 555h1v15h-1zM757 555h1v15h-1zM794 555h1v15h-1zM823 555h1v15h-1zM898 555h1v15h-1zM949 555h1v15h-1z" fill="#777"/><path d="M360 555h2v15h-2zM387 555h2v15h-2zM397 555h1v15h-1zM403 555h1v15h-1zM415 555h6v15h-6zM426 555h5v15h-5zM433 555h4v15h-4zM438 555h1v15h-1zM440 555h2v15h-2zM443 555h2v15h-2zM447 555h3v15h-3zM456 555h6v15h-6zM462 555h40v15h-40zM503 555h9v15h-9zM513 555h29v15h-29zM542 555h4v15h-4zM550 555h6v15h-6zM559 555h1v15h-1zM561 555h7v15h-7zM569 555h3v15h-3zM574 555h5v15h-5zM581 555h2v15h-2zM591 555h3v15h-3zM599 555h4v15h-4zM606 555h3v15h-3zM638 555h2v15h-2zM669 555h4v15h-4zM674 555h3v15h-3zM715 555h2v15h-2zM720 555h4v15h-4zM731 555h1v15h-1zM741 555h1v15h-1zM731 555h1v15h-1zM784 555h3v15h-3zM913 555h2v15h-2zM968 555h2v15h-2zM985 555h4v15h-4zM1006 555h3v15h-3z" fill="#000"/><path d="M421 555h4v15h-4zM546 555h4v15h-4zM572 555h2v15h-2zM588 555h3v15h-3zM641 555h3v15h-3zM709 555h2v15h-2z" fill="#707070"/></g></g>
<path d="M1448.75 96.20V568.20" stroke="#d41212" stroke-width="4" stroke-dasharray="10.2 18.75" stroke-linecap="round" fill="none"/>
<path d="M1532.05 88.25V570.00" stroke="#0c76a1" stroke-width="3.8" fill="none"/>
<text transform="translate(1193.65 552.70) rotate(-90)" class="tk" font-size="30.5" text-anchor="middle">−3</text>
<text transform="translate(1193.65 463.54) rotate(-90)" class="tk" font-size="30.5" text-anchor="middle">−2</text>
<text transform="translate(1193.65 374.38) rotate(-90)" class="tk" font-size="30.5" text-anchor="middle">−1</text>
<text transform="translate(1193.65 284.42) rotate(-90)" class="tk" font-size="30.5" text-anchor="middle">0</text>
<text transform="translate(1193.65 195.26) rotate(-90)" class="tk" font-size="30.5" text-anchor="middle">1</text>
<text transform="translate(1193.65 106.10) rotate(-90)" class="tk" font-size="30.5" text-anchor="middle">2</text>
<text x="1347.11" y="612.00" class="tk" font-size="30.5" text-anchor="middle">−2000</text>
<text x="1532.05" y="612.00" class="tk" font-size="30.5" text-anchor="middle">0</text>
<text x="1716.99" y="612.00" class="tk" font-size="30.5" text-anchor="middle">2000</text>
<text x="1901.94" y="612.00" class="tk" font-size="30.5" text-anchor="middle">4000</text>
<text x="2086.88" y="612.00" class="tk" font-size="30.5" text-anchor="middle">6000</text>
<g clip-path="url(#cBL)">
<path d="M212.5 640.0L213.9 644.1L215.3 648.2L216.7 652.2L218.1 656.3L219.4 660.3L220.8 664.3L222.2 668.2L223.6 672.1L225.0 676.0L226.4 679.9L227.8 683.8L229.2 687.6L230.6 691.5L231.9 695.2L233.3 699.0L234.7 702.7L236.1 706.4L237.5 710.1L238.9 713.7L240.3 717.2L241.7 720.8L243.1 724.2L244.4 727.6L245.8 730.9L247.2 734.2L248.6 737.4L250.0 740.5L251.4 743.6L252.8 746.5L254.2 749.4L255.6 752.3L256.9 755.0L258.3 757.7L259.7 760.3L261.1 762.9L262.5 765.4L263.9 767.9L265.3 770.4L266.7 772.9L268.1 775.3L269.4 777.7L270.8 780.1L272.2 782.4L273.6 784.8L275.0 787.1L276.4 789.4L277.8 791.6L279.2 793.8L280.6 796.0L281.9 798.2L283.3 800.3L284.7 802.4L286.1 804.4L287.5 806.4L288.9 808.4L290.3 810.3L291.7 812.2L293.1 814.0L294.4 815.8L295.8 817.6L297.2 819.4L298.6 821.2L300.0 822.9L301.4 824.6L302.8 826.3L304.2 827.9L305.6 829.6L307.0 831.2L308.3 832.7L309.7 834.3L311.1 835.8L312.5 837.3L313.9 838.8L315.3 840.2L316.7 841.7L318.1 843.1L319.5 844.5L320.8 845.9L322.2 847.3L323.6 848.7L325.0 850.0L326.4 851.4L327.8 852.7L329.2 854.0L330.6 855.3L332.0 856.6L333.3 857.9L334.7 859.1L336.1 860.4L337.5 861.6L338.9 862.8L340.3 864.0L341.7 865.1L343.1 866.3L344.5 867.4L345.8 868.6L347.2 869.7L348.6 870.8L350.0 871.9L351.4 873.0L352.8 874.1L354.2 875.1L355.6 876.1L357.0 877.1L358.3 878.1L359.7 879.1L361.1 880.0L362.5 880.9L363.9 881.8L365.3 882.6L366.7 883.4L368.1 884.3L369.5 885.1L370.8 885.9L372.2 886.7L373.6 887.4L375.0 888.2L376.4 889.0L377.8 889.8L379.2 890.5L380.6 891.3L382.0 892.0L383.3 892.8L384.7 893.5L386.1 894.2L387.5 895.0L388.9 895.7L390.3 896.4L391.7 897.1L393.1 897.8L394.5 898.5L395.8 899.2L397.2 899.9L398.6 900.6L400.0 901.3L401.4 902.0L402.8 902.7L404.2 903.4L405.6 904.1L407.0 904.8L408.3 905.5L409.7 906.1L411.1 906.8L412.5 907.5L413.9 908.2L415.3 908.9L416.7 909.5L418.1 910.2L419.5 910.8L420.8 911.5L422.2 912.1L423.6 912.7L425.0 913.3L426.4 913.9L427.8 914.5L429.2 915.1L430.6 915.7L432.0 916.3L433.3 917.0L434.7 917.6L436.1 918.2L437.5 918.9L438.9 919.6L440.3 920.4L441.7 921.2L443.1 922.1L444.5 923.0L445.8 924.0L447.2 925.1L448.6 926.3L450.0 927.4L451.4 928.6L452.8 929.9L454.2 931.2L455.6 932.5L457.0 933.9L458.3 935.4L459.7 937.0L461.1 938.7L462.5 940.5L463.9 942.5L465.3 944.7L466.7 947.0L468.1 949.4L469.5 951.9L470.9 954.4L472.2 957.1L473.6 959.8L475.0 962.6L476.4 965.4L477.8 968.2L479.2 971.0L480.6 973.9L482.0 976.8L483.4 979.7L484.7 982.6L486.1 985.4L487.5 988.3L488.9 991.2L490.3 994.0L491.7 996.8L493.1 999.6L494.5 1002.3L495.9 1005.0L497.2 1007.6L498.6 1010.2L500.0 1012.8L501.4 1015.3L502.8 1017.7L504.2 1020.0L505.6 1022.2L507.0 1024.3L508.4 1026.2L509.7 1027.9L511.1 1029.6L512.5 1031.0L513.9 1032.4L515.3 1033.6L516.7 1034.7L518.1 1035.6L519.5 1036.4L520.9 1037.1L522.2 1037.6L523.6 1038.0L525.0 1038.3L526.4 1038.4L527.8 1038.5L529.2 1038.4L530.6 1038.3L532.0 1038.1L533.4 1037.8L534.7 1037.5L536.1 1037.2L537.5 1036.7L538.9 1036.3L540.3 1035.7L541.7 1035.2L543.1 1034.6L544.5 1033.9L545.9 1033.3L547.2 1032.6L548.6 1031.9L550.0 1031.2L551.4 1030.5L552.8 1029.8L554.2 1029.0L555.6 1028.2L557.0 1027.4L558.4 1026.6L559.7 1025.7L561.1 1024.8L562.5 1024.0L563.9 1023.1L565.3 1022.2L566.7 1021.4L568.1 1020.5L569.5 1019.6L570.9 1018.8L572.2 1018.0L573.6 1017.2L575.0 1016.4L576.4 1015.7L577.8 1014.9L579.2 1014.3L580.6 1013.6L582.0 1013.0L583.4 1012.4L584.7 1011.8L586.1 1011.3L587.5 1010.7L588.9 1010.3L590.3 1009.8L591.7 1009.3L593.1 1008.9L594.5 1008.5L595.9 1008.1L597.2 1007.8L598.6 1007.4L600.0 1007.1L601.4 1006.8L602.8 1006.5L604.2 1006.2L605.6 1006.0L607.0 1005.7L608.4 1005.5L609.7 1005.3L611.1 1005.1L612.5 1005.0L613.9 1004.9L615.3 1004.8L616.7 1004.7L618.1 1004.6L619.5 1004.6L620.9 1004.5L622.2 1004.5L623.6 1004.6L625.0 1004.6L626.4 1004.6L627.8 1004.7L629.2 1004.7L630.6 1004.8L632.0 1004.9L633.4 1005.1L634.8 1005.2L636.1 1005.4L637.5 1005.6L638.9 1005.9L640.3 1006.2L641.7 1006.5L643.1 1006.9L644.5 1007.3L645.9 1007.7L647.3 1008.2L648.6 1008.7L650.0 1009.2L651.4 1009.8L652.8 1010.3L654.2 1010.8L655.6 1011.3L657.0 1011.9L658.4 1012.4L659.8 1013.0L661.1 1013.5L662.5 1014.0L663.9 1014.6L665.3 1015.1L666.7 1015.7L668.1 1016.2L669.5 1016.7L670.9 1017.2L672.3 1017.8L673.6 1018.3L675.0 1018.8L676.4 1019.3L677.8 1019.8L679.2 1020.3L680.6 1020.8L682.0 1021.4L683.4 1021.9L684.8 1022.4L686.1 1022.9L687.5 1023.4L688.9 1023.9L690.3 1024.4L691.7 1024.9L693.1 1025.5L694.5 1026.0L695.9 1026.5L697.3 1027.0L698.6 1027.5L700.0 1028.0L701.4 1028.5L702.8 1029.0L704.2 1029.6L705.6 1030.1L707.0 1030.6L708.4 1031.1L709.8 1031.6L711.1 1032.1L712.5 1032.6L713.9 1033.1L715.3 1033.6L716.7 1034.1L718.1 1034.6L719.5 1035.1L720.9 1035.6L722.3 1036.1L723.6 1036.6L725.0 1037.1L726.4 1037.6L727.8 1038.1L729.2 1038.6L730.6 1039.1L732.0 1039.6L733.4 1040.1L734.8 1040.6L736.1 1041.0L737.5 1041.5L738.9 1042.0L740.3 1042.5L741.7 1043.0L743.1 1043.5L744.5 1044.0L745.9 1044.5L747.3 1044.9L748.6 1045.4L750.0 1045.9L751.4 1046.4L752.8 1046.9L754.2 1047.4L755.6 1047.8L757.0 1048.3L758.4 1048.8L759.8 1049.3L761.1 1049.8L762.5 1050.3L763.9 1050.7L765.3 1051.2L766.7 1051.7L768.1 1052.2L769.5 1052.6L770.9 1053.1L772.3 1053.6L773.6 1054.1L775.0 1054.6L776.4 1055.0L777.8 1055.5L779.2 1056.0L780.6 1056.5L782.0 1056.9L783.4 1057.4L784.8 1057.9L786.1 1058.4L787.5 1058.8L788.9 1059.3L790.3 1059.8L791.7 1060.2L793.1 1060.7L794.5 1061.2L795.9 1061.6L797.3 1062.1L798.7 1062.5L800.0 1063.0L801.4 1063.5L802.8 1063.9L804.2 1064.4L805.6 1064.8L807.0 1065.3L808.4 1065.7L809.8 1066.2L811.2 1066.6L812.5 1067.1L813.9 1067.5L815.3 1068.0L816.7 1068.4L818.1 1068.9L819.5 1069.3L820.9 1069.7L822.3 1070.2L823.7 1070.6L825.0 1071.0L826.4 1071.5L827.8 1071.9L829.2 1072.3L830.6 1072.8L832.0 1073.2L833.4 1073.6L834.8 1074.0L836.2 1074.4L837.5 1074.9L838.9 1075.3L840.3 1075.7L841.7 1076.1L843.1 1076.5L844.5 1076.9L845.9 1077.3L847.3 1077.7L848.7 1078.1L850.0 1078.5L851.4 1078.9L852.8 1079.3L854.2 1079.7L855.6 1080.1L857.0 1080.5L858.4 1080.9L859.8 1081.3L861.2 1081.7L862.5 1082.1L863.9 1082.4L865.3 1082.8L866.7 1083.2L868.1 1083.6L869.5 1084.0L870.9 1084.3L872.3 1084.7L873.7 1085.1L875.0 1085.5L876.4 1085.8L877.8 1086.2L879.2 1086.6L880.6 1086.9L882.0 1087.3L883.4 1087.7L884.8 1088.0L886.2 1088.4L887.5 1088.8L888.9 1089.1L890.3 1089.5L891.7 1089.8L893.1 1090.2L894.5 1090.6L895.9 1090.9L897.3 1091.3L898.7 1091.6L900.0 1092.0L901.4 1092.3L902.8 1092.7L904.2 1093.1L905.6 1093.4L907.0 1093.8L908.4 1094.1L909.8 1094.5L911.2 1094.8L912.5 1095.2L913.9 1095.5L915.3 1095.9L916.7 1096.2L918.1 1096.6L919.5 1096.9L920.9 1097.3L922.3 1097.6L923.7 1098.0L925.0 1098.3L926.4 1098.7L927.8 1099.0L929.2 1099.4L930.6 1099.7L932.0 1100.1L933.4 1100.4L934.8 1100.7L936.2 1101.1L937.5 1101.4L938.9 1101.8L940.3 1102.1L941.7 1102.4L943.1 1102.8L944.5 1103.1L945.9 1103.5L947.3 1103.8L948.7 1104.1L950.0 1104.5L951.4 1104.8L952.8 1105.1L954.2 1105.5L955.6 1105.8L957.0 1106.1L958.4 1106.5L959.8 1106.8L961.2 1107.1L962.6 1107.4L963.9 1107.8L965.3 1108.1L966.7 1108.4L968.1 1108.7L969.5 1109.1L970.9 1109.4L972.3 1109.7L973.7 1110.0L975.1 1110.3L976.4 1110.7L977.8 1111.0L979.2 1111.3L980.6 1111.6L982.0 1111.9L983.4 1112.2L984.8 1112.6L986.2 1112.9L987.6 1113.2L988.9 1113.5L990.3 1113.8L991.7 1114.1L993.1 1114.4L994.5 1114.7L995.9 1115.0L997.3 1115.3L998.7 1115.7L1000.1 1116.0L1001.4 1116.3L1002.8 1116.6L1004.2 1116.9L1005.6 1117.2L1007.0 1117.5L1008.4 1117.8L1009.8 1118.1L1011.2 1118.4L1012.6 1118.7L1013.9 1119.0L1015.3 1119.3L1016.7 1119.5L1018.1 1119.8L1019.5 1120.1L1020.9 1120.4L1022.3 1120.7L1023.7 1121.0L1025.1 1121.3L1026.4 1121.5L1027.8 1121.8L1029.2 1122.1L1030.6 1122.4L1032.0 1122.6L1033.4 1122.9L1034.8 1123.2L1036.2 1123.4L1037.6 1123.7L1038.9 1124.0L1040.3 1124.2L1041.7 1124.5L1043.1 1124.7L1044.5 1125.0L1044.5 1202.3L1043.1 1201.6L1041.7 1200.9L1040.3 1200.2L1038.9 1199.5L1037.6 1198.7L1036.2 1198.0L1034.8 1197.3L1033.4 1196.6L1032.0 1195.9L1030.6 1195.3L1029.2 1194.6L1027.8 1193.9L1026.4 1193.2L1025.1 1192.5L1023.7 1191.8L1022.3 1191.2L1020.9 1190.5L1019.5 1189.8L1018.1 1189.2L1016.7 1188.5L1015.3 1187.9L1013.9 1187.2L1012.6 1186.5L1011.2 1185.9L1009.8 1185.3L1008.4 1184.6L1007.0 1184.0L1005.6 1183.3L1004.2 1182.7L1002.8 1182.0L1001.4 1181.4L1000.1 1180.8L998.7 1180.1L997.3 1179.5L995.9 1178.8L994.5 1178.2L993.1 1177.6L991.7 1176.9L990.3 1176.3L988.9 1175.7L987.6 1175.0L986.2 1174.4L984.8 1173.8L983.4 1173.2L982.0 1172.5L980.6 1171.9L979.2 1171.3L977.8 1170.7L976.4 1170.1L975.1 1169.4L973.7 1168.8L972.3 1168.2L970.9 1167.6L969.5 1167.0L968.1 1166.4L966.7 1165.7L965.3 1165.1L963.9 1164.5L962.6 1163.9L961.2 1163.3L959.8 1162.7L958.4 1162.1L957.0 1161.5L955.6 1160.9L954.2 1160.3L952.8 1159.7L951.4 1159.1L950.0 1158.5L948.7 1157.9L947.3 1157.3L945.9 1156.7L944.5 1156.1L943.1 1155.5L941.7 1154.9L940.3 1154.3L938.9 1153.7L937.5 1153.1L936.2 1152.5L934.8 1151.9L933.4 1151.3L932.0 1150.7L930.6 1150.1L929.2 1149.5L927.8 1148.9L926.4 1148.3L925.0 1147.7L923.7 1147.2L922.3 1146.6L920.9 1146.0L919.5 1145.4L918.1 1144.8L916.7 1144.2L915.3 1143.6L913.9 1143.0L912.5 1142.5L911.2 1141.9L909.8 1141.3L908.4 1140.7L907.0 1140.1L905.6 1139.6L904.2 1139.0L902.8 1138.4L901.4 1137.8L900.0 1137.3L898.7 1136.7L897.3 1136.1L895.9 1135.5L894.5 1135.0L893.1 1134.4L891.7 1133.8L890.3 1133.3L888.9 1132.7L887.5 1132.1L886.2 1131.6L884.8 1131.0L883.4 1130.4L882.0 1129.9L880.6 1129.3L879.2 1128.7L877.8 1128.2L876.4 1127.6L875.0 1127.1L873.7 1126.5L872.3 1125.9L870.9 1125.4L869.5 1124.8L868.1 1124.3L866.7 1123.7L865.3 1123.2L863.9 1122.6L862.5 1122.1L861.2 1121.5L859.8 1121.0L858.4 1120.4L857.0 1119.9L855.6 1119.3L854.2 1118.8L852.8 1118.2L851.4 1117.7L850.0 1117.1L848.7 1116.6L847.3 1116.0L845.9 1115.5L844.5 1114.9L843.1 1114.4L841.7 1113.8L840.3 1113.3L838.9 1112.7L837.5 1112.2L836.2 1111.6L834.8 1111.1L833.4 1110.6L832.0 1110.0L830.6 1109.5L829.2 1108.9L827.8 1108.4L826.4 1107.9L825.0 1107.3L823.7 1106.8L822.3 1106.2L820.9 1105.7L819.5 1105.2L818.1 1104.6L816.7 1104.1L815.3 1103.6L813.9 1103.0L812.5 1102.5L811.2 1102.0L809.8 1101.5L808.4 1100.9L807.0 1100.4L805.6 1099.9L804.2 1099.4L802.8 1098.8L801.4 1098.3L800.0 1097.8L798.7 1097.3L797.3 1096.8L795.9 1096.3L794.5 1095.7L793.1 1095.2L791.7 1094.7L790.3 1094.2L788.9 1093.7L787.5 1093.2L786.1 1092.7L784.8 1092.2L783.4 1091.7L782.0 1091.2L780.6 1090.7L779.2 1090.2L777.8 1089.7L776.4 1089.2L775.0 1088.8L773.6 1088.3L772.3 1087.8L770.9 1087.3L769.5 1086.8L768.1 1086.3L766.7 1085.9L765.3 1085.4L763.9 1084.9L762.5 1084.4L761.1 1084.0L759.8 1083.5L758.4 1083.0L757.0 1082.6L755.6 1082.1L754.2 1081.6L752.8 1081.2L751.4 1080.7L750.0 1080.2L748.6 1079.8L747.3 1079.3L745.9 1078.9L744.5 1078.4L743.1 1078.0L741.7 1077.5L740.3 1077.1L738.9 1076.6L737.5 1076.2L736.1 1075.8L734.8 1075.3L733.4 1074.9L732.0 1074.4L730.6 1074.0L729.2 1073.6L727.8 1073.1L726.4 1072.7L725.0 1072.3L723.6 1071.9L722.3 1071.4L720.9 1071.0L719.5 1070.6L718.1 1070.2L716.7 1069.8L715.3 1069.3L713.9 1068.9L712.5 1068.5L711.1 1068.1L709.8 1067.7L708.4 1067.3L707.0 1066.9L705.6 1066.4L704.2 1066.0L702.8 1065.6L701.4 1065.2L700.0 1064.8L698.6 1064.4L697.3 1063.9L695.9 1063.5L694.5 1063.1L693.1 1062.7L691.7 1062.3L690.3 1061.9L688.9 1061.4L687.5 1061.0L686.1 1060.6L684.8 1060.2L683.4 1059.8L682.0 1059.4L680.6 1059.0L679.2 1058.5L677.8 1058.1L676.4 1057.7L675.0 1057.3L673.6 1056.9L672.3 1056.5L670.9 1056.0L669.5 1055.6L668.1 1055.2L666.7 1054.8L665.3 1054.4L663.9 1054.0L662.5 1053.6L661.1 1053.1L659.8 1052.7L658.4 1052.3L657.0 1051.9L655.6 1051.5L654.2 1051.1L652.8 1050.6L651.4 1050.2L650.0 1049.8L648.6 1049.4L647.3 1049.0L645.9 1048.6L644.5 1048.1L643.1 1047.7L641.7 1047.3L640.3 1046.9L638.9 1046.5L637.5 1046.1L636.1 1045.6L634.8 1045.2L633.4 1044.8L632.0 1044.4L630.6 1044.0L629.2 1043.6L627.8 1043.2L626.4 1042.9L625.0 1042.6L623.6 1042.3L622.2 1042.0L620.9 1041.8L619.5 1041.6L618.1 1041.4L616.7 1041.3L615.3 1041.2L613.9 1041.2L612.5 1041.1L611.1 1041.1L609.7 1041.1L608.4 1041.1L607.0 1041.2L605.6 1041.3L604.2 1041.4L602.8 1041.5L601.4 1041.6L600.0 1041.7L598.6 1041.8L597.2 1042.0L595.9 1042.2L594.5 1042.4L593.1 1042.6L591.7 1042.8L590.3 1043.0L588.9 1043.3L587.5 1043.6L586.1 1043.9L584.7 1044.2L583.4 1044.5L582.0 1044.9L580.6 1045.3L579.2 1045.7L577.8 1046.1L576.4 1046.6L575.0 1047.0L573.6 1047.5L572.2 1048.0L570.9 1048.6L569.5 1049.1L568.1 1049.7L566.7 1050.4L565.3 1051.0L563.9 1051.7L562.5 1052.3L561.1 1053.0L559.7 1053.7L558.4 1054.5L557.0 1055.2L555.6 1055.9L554.2 1056.6L552.8 1057.3L551.4 1058.0L550.0 1058.7L548.6 1059.3L547.2 1060.0L545.9 1060.6L544.5 1061.2L543.1 1061.7L541.7 1062.3L540.3 1062.8L538.9 1063.3L537.5 1063.7L536.1 1064.0L534.7 1064.3L533.4 1064.5L532.0 1064.6L530.6 1064.5L529.2 1064.3L527.8 1063.9L526.4 1063.3L525.0 1062.7L523.6 1062.0L522.2 1061.1L520.9 1060.1L519.5 1059.0L518.1 1057.8L516.7 1056.4L515.3 1054.9L513.9 1053.2L512.5 1051.4L511.1 1049.4L509.7 1047.3L508.4 1045.1L507.0 1042.8L505.6 1040.4L504.2 1037.8L502.8 1035.2L501.4 1032.4L500.0 1029.6L498.6 1026.6L497.2 1023.6L495.9 1020.6L494.5 1017.7L493.1 1014.7L491.7 1011.9L490.3 1009.2L488.9 1006.6L487.5 1004.1L486.1 1001.6L484.7 999.2L483.4 996.9L482.0 994.6L480.6 992.4L479.2 990.2L477.8 988.1L476.4 986.0L475.0 983.9L473.6 981.9L472.2 979.9L470.9 977.9L469.5 976.0L468.1 974.1L466.7 972.3L465.3 970.6L463.9 968.9L462.5 967.3L461.1 965.8L459.7 964.3L458.3 963.0L457.0 961.9L455.6 960.8L454.2 959.9L452.8 959.1L451.4 958.4L450.0 957.8L448.6 957.4L447.2 957.0L445.8 956.7L444.5 956.5L443.1 956.4L441.7 956.3L440.3 956.2L438.9 956.2L437.5 956.2L436.1 956.3L434.7 956.5L433.3 956.8L432.0 957.1L430.6 957.6L429.2 958.1L427.8 958.8L426.4 959.4L425.0 960.2L423.6 960.9L422.2 961.8L420.8 962.6L419.5 963.4L418.1 964.3L416.7 965.2L415.3 966.1L413.9 967.0L412.5 968.0L411.1 968.9L409.7 969.9L408.3 970.8L407.0 971.8L405.6 972.8L404.2 973.7L402.8 974.7L401.4 975.7L400.0 976.6L398.6 977.6L397.2 978.5L395.8 979.4L394.5 980.3L393.1 981.1L391.7 982.0L390.3 982.8L388.9 983.6L387.5 984.4L386.1 985.1L384.7 985.8L383.3 986.5L382.0 987.1L380.6 987.7L379.2 988.3L377.8 988.9L376.4 989.4L375.0 989.9L373.6 990.3L372.2 990.7L370.8 991.1L369.5 991.5L368.1 991.8L366.7 992.0L365.3 992.2L363.9 992.4L362.5 992.6L361.1 992.7L359.7 992.8L358.3 992.9L357.0 992.9L355.6 992.9L354.2 992.9L352.8 992.9L351.4 992.9L350.0 992.9L348.6 992.8L347.2 992.7L345.8 992.6L344.5 992.5L343.1 992.4L341.7 992.3L340.3 992.1L338.9 991.9L337.5 991.7L336.1 991.4L334.7 991.1L333.3 990.8L332.0 990.5L330.6 990.2L329.2 989.9L327.8 989.6L326.4 989.2L325.0 988.9L323.6 988.6L322.2 988.2L320.8 987.9L319.5 987.5L318.1 987.1L316.7 986.8L315.3 986.4L313.9 986.0L312.5 985.7L311.1 985.3L309.7 984.9L308.3 984.5L307.0 984.1L305.6 983.7L304.2 983.3L302.8 982.9L301.4 982.5L300.0 982.0L298.6 981.6L297.2 981.2L295.8 980.7L294.4 980.3L293.1 979.9L291.7 979.5L290.3 979.1L288.9 978.6L287.5 978.2L286.1 977.9L284.7 977.5L283.3 977.2L281.9 976.8L280.6 976.6L279.2 976.3L277.8 976.1L276.4 975.9L275.0 975.7L273.6 975.6L272.2 975.4L270.8 975.3L269.4 975.2L268.1 975.2L266.7 975.1L265.3 975.1L263.9 975.1L262.5 975.1L261.1 975.1L259.7 975.2L258.3 975.4L256.9 975.5L255.6 975.7L254.2 976.0L252.8 976.3L251.4 976.6L250.0 977.0L248.6 977.5L247.2 978.0L245.8 978.5L244.4 979.1L243.1 979.8L241.7 980.4L240.3 981.1L238.9 981.9L237.5 982.6L236.1 983.4L234.7 984.2L233.3 985.1L231.9 985.9L230.6 986.8L229.2 987.7L227.8 988.6L226.4 989.5L225.0 990.5L223.6 991.4L222.2 992.4L220.8 993.4L219.4 994.4L218.1 995.4L216.7 996.4L215.3 997.4L213.9 998.5L212.5 999.5Z" fill="#cccccc"/>
<path d="M212.5 828.7L213.9 830.0L215.3 831.2L216.7 832.4L218.1 833.6L219.4 834.8L220.8 836.0L222.2 837.2L223.6 838.4L225.0 839.6L226.4 840.8L227.8 842.0L229.2 843.2L230.6 844.4L231.9 845.6L233.3 846.8L234.7 848.0L236.1 849.2L237.5 850.4L238.9 851.6L240.3 852.7L241.7 853.9L243.1 855.1L244.4 856.3L245.8 857.5L247.2 858.6L248.6 859.8L250.0 861.0L251.4 862.2L252.8 863.4L254.2 864.5L255.6 865.7L256.9 866.9L258.3 868.1L259.7 869.3L261.1 870.4L262.5 871.6L263.9 872.8L265.3 874.0L266.7 875.2L268.1 876.4L269.4 877.5L270.8 878.7L272.2 879.9L273.6 881.1L275.0 882.3L276.4 883.4L277.8 884.6L279.2 885.8L280.6 887.0L281.9 888.2L283.3 889.3L284.7 890.5L286.1 891.7L287.5 892.9L288.9 894.0L290.3 895.2L291.7 896.4L293.1 897.5L294.4 898.6L295.8 899.7L297.2 900.8L298.6 901.9L300.0 902.9L301.4 904.0L302.8 905.0L304.2 906.0L305.6 907.0L307.0 908.0L308.3 909.0L309.7 910.0L311.1 911.0L312.5 912.0L313.9 913.0L315.3 913.9L316.7 914.9L318.1 915.8L319.5 916.7L320.8 917.7L322.2 918.6L323.6 919.4L325.0 920.3L326.4 921.2L327.8 922.0L329.2 922.8L330.6 923.6L332.0 924.4L333.3 925.2L334.7 925.9L336.1 926.7L337.5 927.4L338.9 928.1L340.3 928.8L341.7 929.5L343.1 930.2L344.5 930.8L345.8 931.4L347.2 932.0L348.6 932.6L350.0 933.1L351.4 933.7L352.8 934.2L354.2 934.6L355.6 935.1L357.0 935.5L358.3 935.9L359.7 936.3L361.1 936.6L362.5 936.9L363.9 937.2L365.3 937.5L366.7 937.8L368.1 938.0L369.5 938.2L370.8 938.4L372.2 938.6L373.6 938.8L375.0 939.0L376.4 939.1L377.8 939.3L379.2 939.4L380.6 939.4L382.0 939.5L383.3 939.6L384.7 939.6L386.1 939.6L387.5 939.5L388.9 939.5L390.3 939.4L391.7 939.4L393.1 939.3L394.5 939.2L395.8 939.1L397.2 938.9L398.6 938.8L400.0 938.7L401.4 938.6L402.8 938.5L404.2 938.4L405.6 938.3L407.0 938.1L408.3 938.0L409.7 937.9L411.1 937.8L412.5 937.7L413.9 937.6L415.3 937.5L416.7 937.4L418.1 937.3L419.5 937.2L420.8 937.1L422.2 937.0L423.6 936.9L425.0 936.9L426.4 936.8L427.8 936.7L429.2 936.7L430.6 936.7L432.0 936.7L433.3 936.7L434.7 936.9L436.1 937.1L437.5 937.3L438.9 937.6L440.3 938.0L441.7 938.4L443.1 938.9L444.5 939.4L445.8 940.0L447.2 940.6L448.6 941.3L450.0 942.1L451.4 943.0L452.8 944.0L454.2 945.1L455.6 946.3L457.0 947.7L458.3 949.2L459.7 950.8L461.1 952.5L462.5 954.3L463.9 956.2L465.3 958.1L466.7 960.2L468.1 962.2L469.5 964.4L470.9 966.6L472.2 968.8L473.6 971.1L475.0 973.4L476.4 975.7L477.8 978.1L479.2 980.6L480.6 983.0L482.0 985.5L483.4 988.0L484.7 990.5L486.1 993.1L487.5 995.7L488.9 998.3L490.3 1000.9L491.7 1003.6L493.1 1006.3L494.5 1009.0L495.9 1011.8L497.2 1014.5L498.6 1017.3L500.0 1020.0L501.4 1022.7L502.8 1025.3L504.2 1027.8L505.6 1030.2L507.0 1032.5L508.4 1034.7L509.7 1036.7L511.1 1038.7L512.5 1040.4L513.9 1042.1L515.3 1043.6L516.7 1044.9L518.1 1046.1L519.5 1047.2L520.9 1048.1L522.2 1048.9L523.6 1049.6L525.0 1050.2L526.4 1050.7L527.8 1051.1L529.2 1051.4L530.6 1051.6L532.0 1051.6L533.4 1051.6L534.7 1051.4L536.1 1051.1L537.5 1050.7L538.9 1050.2L540.3 1049.6L541.7 1049.0L543.1 1048.4L544.5 1047.7L545.9 1047.0L547.2 1046.2L548.6 1045.5L550.0 1044.7L551.4 1043.9L552.8 1043.1L554.2 1042.3L555.6 1041.4L557.0 1040.6L558.4 1039.8L559.7 1039.1L561.1 1038.3L562.5 1037.6L563.9 1036.9L565.3 1036.2L566.7 1035.5L568.1 1034.9L569.5 1034.3L570.9 1033.7L572.2 1033.2L573.6 1032.6L575.0 1032.1L576.4 1031.6L577.8 1031.1L579.2 1030.6L580.6 1030.2L582.0 1029.7L583.4 1029.3L584.7 1028.9L586.1 1028.5L587.5 1028.2L588.9 1027.8L590.3 1027.5L591.7 1027.1L593.1 1026.8L594.5 1026.5L595.9 1026.3L597.2 1026.0L598.6 1025.7L600.0 1025.5L601.4 1025.3L602.8 1025.1L604.2 1024.9L605.6 1024.7L607.0 1024.6L608.4 1024.5L609.7 1024.3L611.1 1024.2L612.5 1024.2L613.9 1024.1L615.3 1024.0L616.7 1024.0L618.1 1024.0L619.5 1024.0L620.9 1024.0L622.2 1024.0L623.6 1024.1L625.0 1024.2L626.4 1024.3L627.8 1024.4L629.2 1024.6L630.6 1024.8L632.0 1025.0L633.4 1025.2L634.8 1025.5L636.1 1025.8L637.5 1026.1L638.9 1026.5L640.3 1026.8L641.7 1027.2L643.1 1027.5L644.5 1027.9L645.9 1028.3L647.3 1028.6L648.6 1029.0L650.0 1029.4L651.4 1029.8L652.8 1030.2L654.2 1030.6L655.6 1031.0L657.0 1031.4L658.4 1031.9L659.8 1032.3L661.1 1032.8L662.5 1033.2L663.9 1033.7L665.3 1034.1L666.7 1034.6L668.1 1035.0L669.5 1035.5L670.9 1036.0L672.3 1036.4L673.6 1036.9L675.0 1037.4L676.4 1037.8L677.8 1038.3L679.2 1038.8L680.6 1039.3L682.0 1039.7L683.4 1040.2L684.8 1040.7L686.1 1041.2L687.5 1041.6L688.9 1042.1L690.3 1042.6L691.7 1043.1L693.1 1043.6L694.5 1044.1L695.9 1044.6L697.3 1045.1L698.6 1045.6L700.0 1046.0L701.4 1046.5L702.8 1047.0L704.2 1047.5L705.6 1048.0L707.0 1048.5L708.4 1049.0L709.8 1049.5L711.1 1050.0L712.5 1050.5L713.9 1050.9L715.3 1051.4L716.7 1051.9L718.1 1052.4L719.5 1052.9L720.9 1053.4L722.3 1053.9L723.6 1054.4L725.0 1054.8L726.4 1055.3L727.8 1055.8L729.2 1056.3L730.6 1056.8L732.0 1057.3L733.4 1057.8L734.8 1058.2L736.1 1058.7L737.5 1059.2L738.9 1059.7L740.3 1060.2L741.7 1060.7L743.1 1061.2L744.5 1061.6L745.9 1062.1L747.3 1062.6L748.6 1063.1L750.0 1063.6L751.4 1064.1L752.8 1064.6L754.2 1065.1L755.6 1065.5L757.0 1066.0L758.4 1066.5L759.8 1067.0L761.1 1067.5L762.5 1068.0L763.9 1068.5L765.3 1068.9L766.7 1069.4L768.1 1069.9L769.5 1070.4L770.9 1070.9L772.3 1071.4L773.6 1071.9L775.0 1072.3L776.4 1072.8L777.8 1073.3L779.2 1073.8L780.6 1074.3L782.0 1074.8L783.4 1075.3L784.8 1075.8L786.1 1076.2L787.5 1076.7L788.9 1077.2L790.3 1077.7L791.7 1078.2L793.1 1078.7L794.5 1079.2L795.9 1079.6L797.3 1080.1L798.7 1080.6L800.0 1081.1L801.4 1081.6L802.8 1082.1L804.2 1082.6L805.6 1083.1L807.0 1083.5L808.4 1084.0L809.8 1084.5L811.2 1085.0L812.5 1085.5L813.9 1086.0L815.3 1086.5L816.7 1087.0L818.1 1087.4L819.5 1087.9L820.9 1088.4L822.3 1088.9L823.7 1089.4L825.0 1089.9L826.4 1090.4L827.8 1090.9L829.2 1091.3L830.6 1091.8L832.0 1092.3L833.4 1092.8L834.8 1093.3L836.2 1093.8L837.5 1094.3L838.9 1094.8L840.3 1095.2L841.7 1095.7L843.1 1096.2L844.5 1096.7L845.9 1097.2L847.3 1097.7L848.7 1098.2L850.0 1098.7L851.4 1099.1L852.8 1099.6L854.2 1100.1L855.6 1100.6L857.0 1101.1L858.4 1101.6L859.8 1102.1L861.2 1102.6L862.5 1103.0L863.9 1103.5L865.3 1104.0L866.7 1104.5L868.1 1105.0L869.5 1105.5L870.9 1106.0L872.3 1106.5L873.7 1106.9L875.0 1107.4L876.4 1107.9L877.8 1108.4L879.2 1108.9L880.6 1109.4L882.0 1109.9L883.4 1110.3L884.8 1110.8L886.2 1111.3L887.5 1111.8L888.9 1112.3L890.3 1112.8L891.7 1113.3L893.1 1113.8L894.5 1114.2L895.9 1114.7L897.3 1115.2L898.7 1115.7L900.0 1116.2L901.4 1116.7L902.8 1117.2L904.2 1117.6L905.6 1118.1L907.0 1118.6L908.4 1119.1L909.8 1119.6L911.2 1120.1L912.5 1120.5L913.9 1121.0L915.3 1121.5L916.7 1122.0L918.1 1122.5L919.5 1122.9L920.9 1123.4L922.3 1123.9L923.7 1124.4L925.0 1124.9L926.4 1125.3L927.8 1125.8L929.2 1126.3L930.6 1126.8L932.0 1127.2L933.4 1127.7L934.8 1128.2L936.2 1128.7L937.5 1129.2L938.9 1129.6L940.3 1130.1L941.7 1130.6L943.1 1131.1L944.5 1131.5L945.9 1132.0L947.3 1132.5L948.7 1133.0L950.0 1133.4L951.4 1133.9L952.8 1134.4L954.2 1134.8L955.6 1135.3L957.0 1135.8L958.4 1136.3L959.8 1136.7L961.2 1137.2L962.6 1137.7L963.9 1138.1L965.3 1138.6L966.7 1139.1L968.1 1139.6L969.5 1140.0L970.9 1140.5L972.3 1141.0L973.7 1141.4L975.1 1141.9L976.4 1142.4L977.8 1142.8L979.2 1143.3L980.6 1143.8L982.0 1144.3L983.4 1144.7L984.8 1145.2L986.2 1145.7L987.6 1146.1L988.9 1146.6L990.3 1147.1L991.7 1147.5L993.1 1148.0L994.5 1148.5L995.9 1148.9L997.3 1149.4L998.7 1149.9L1000.1 1150.3L1001.4 1150.8L1002.8 1151.3L1004.2 1151.7L1005.6 1152.2L1007.0 1152.7L1008.4 1153.1L1009.8 1153.6L1011.2 1154.1L1012.6 1154.5L1013.9 1155.0L1015.3 1155.4L1016.7 1155.9L1018.1 1156.4L1019.5 1156.8L1020.9 1157.3L1022.3 1157.8L1023.7 1158.2L1025.1 1158.7L1026.4 1159.2L1027.8 1159.6L1029.2 1160.1L1030.6 1160.6L1032.0 1161.0L1033.4 1161.5L1034.8 1162.0L1036.2 1162.4L1037.6 1162.9L1038.9 1163.3L1040.3 1163.8L1041.7 1164.3L1043.1 1164.7L1044.5 1165.2" fill="none" stroke="#000" stroke-width="1.5"/>
</g>
<path d="M179.10 754.15V1199.95M179.10 1199.95H167.60M179.10 1110.79H167.60M179.10 1021.63H167.60M179.10 932.47H167.60M179.10 843.31H167.60M179.10 754.15H167.60M304.96 1218.15H1044.74M304.96 1218.15V1229.75M489.90 1218.15V1229.75M674.84 1218.15V1229.75M859.79 1218.15V1229.75M1044.73 1218.15V1229.75" fill="none" stroke="#000" stroke-width="1.7" stroke-linecap="round" stroke-linejoin="round"/>
<g transform="translate(0.00 648.05)"><g shape-rendering="crispEdges" stroke="none"><path d="M256 555h1v15h-1zM259 555h1v15h-1zM266 555h1v15h-1zM269 555h1v15h-1zM305 555h1v15h-1zM308 555h1v15h-1zM311 555h1v15h-1zM343 555h1v15h-1zM348 555h1v15h-1zM355 555h1v15h-1zM380 555h1v15h-1zM393 555h1v15h-1zM395 555h1v15h-1zM401 555h1v15h-1zM411 555h1v15h-1zM413 555h1v15h-1zM617 555h1v15h-1zM648 555h1v15h-1zM681 555h1v15h-1zM700 555h1v15h-1zM705 555h1v15h-1zM707 555h1v15h-1zM713 555h1v15h-1zM725 555h1v15h-1zM728 555h1v15h-1zM736 555h1v15h-1zM741 555h1v15h-1zM743 555h1v15h-1zM767 555h1v15h-1zM772 555h1v15h-1zM774 555h1v15h-1zM791 555h1v15h-1zM802 555h1v15h-1zM813 555h1v15h-1zM834 555h1v15h-1zM845 555h1v15h-1zM860 555h1v15h-1zM869 555h1v15h-1zM873 555h1v15h-1zM883 555h1v15h-1zM927 555h1v15h-1zM930 555h1v15h-1zM933 555h1v15h-1zM951 555h1v15h-1zM954 555h1v15h-1zM957 555h1v15h-1zM981 555h1v15h-1zM991 555h1v15h-1zM1025 555h1v15h-1zM1027 555h1v15h-1zM1029 555h1v15h-1zM1032 555h1v15h-1zM1034 555h1v15h-1z" fill="#111"/><path d="M630 555h1v15h-1zM663 555h1v15h-1zM690 555h1v15h-1zM753 555h1v15h-1zM757 555h1v15h-1zM794 555h1v15h-1zM823 555h1v15h-1zM898 555h1v15h-1zM949 555h1v15h-1z" fill="#777"/><path d="M360 555h2v15h-2zM387 555h2v15h-2zM397 555h1v15h-1zM403 555h1v15h-1zM415 555h6v15h-6zM426 555h5v15h-5zM433 555h4v15h-4zM438 555h1v15h-1zM440 555h2v15h-2zM443 555h2v15h-2zM447 555h3v15h-3zM456 555h6v15h-6zM462 555h40v15h-40zM503 555h9v15h-9zM513 555h29v15h-29zM542 555h4v15h-4zM550 555h6v15h-6zM559 555h1v15h-1zM561 555h7v15h-7zM569 555h3v15h-3zM574 555h5v15h-5zM581 555h2v15h-2zM591 555h3v15h-3zM599 555h4v15h-4zM606 555h3v15h-3zM638 555h2v15h-2zM669 555h4v15h-4zM674 555h3v15h-3zM715 555h2v15h-2zM720 555h4v15h-4zM731 555h1v15h-1zM741 555h1v15h-1zM731 555h1v15h-1zM784 555h3v15h-3zM913 555h2v15h-2zM968 555h2v15h-2zM985 555h4v15h-4zM1006 555h3v15h-3z" fill="#000"/><path d="M421 555h4v15h-4zM546 555h4v15h-4zM572 555h2v15h-2zM588 555h3v15h-3zM641 555h3v15h-3zM709 555h2v15h-2z" fill="#707070"/></g></g>
<path d="M453.00 744.25V1216.25" stroke="#d41212" stroke-width="4" stroke-dasharray="10.2 18.75" stroke-linecap="round" fill="none"/>
<path d="M489.90 736.30V1218.05" stroke="#0c76a1" stroke-width="3.8" fill="none"/>
<text transform="translate(151.50 1200.75) rotate(-90)" class="tk" font-size="30.5" text-anchor="middle">−3</text>
<text transform="translate(151.50 1111.59) rotate(-90)" class="tk" font-size="30.5" text-anchor="middle">−2</text>
<text transform="translate(151.50 1022.43) rotate(-90)" class="tk" font-size="30.5" text-anchor="middle">−1</text>
<text transform="translate(151.50 932.47) rotate(-90)" class="tk" font-size="30.5" text-anchor="middle">0</text>
<text transform="translate(151.50 843.31) rotate(-90)" class="tk" font-size="30.5" text-anchor="middle">1</text>
<text transform="translate(151.50 754.15) rotate(-90)" class="tk" font-size="30.5" text-anchor="middle">2</text>
<text x="304.96" y="1260.05" class="tk" font-size="30.5" text-anchor="middle">−2000</text>
<text x="489.90" y="1260.05" class="tk" font-size="30.5" text-anchor="middle">0</text>
<text x="674.84" y="1260.05" class="tk" font-size="30.5" text-anchor="middle">2000</text>
<text x="859.79" y="1260.05" class="tk" font-size="30.5" text-anchor="middle">4000</text>
<text x="1044.73" y="1260.05" class="tk" font-size="30.5" text-anchor="middle">6000</text>
<g clip-path="url(#cBR)">
<path d="M1254.2 776.2L1255.6 778.0L1257.0 779.7L1258.4 781.5L1259.8 783.2L1261.2 784.9L1262.6 786.6L1264.0 788.3L1265.4 790.0L1266.8 791.7L1268.1 793.4L1269.5 795.1L1270.9 796.7L1272.3 798.4L1273.7 800.1L1275.1 801.7L1276.5 803.4L1277.9 805.0L1279.3 806.6L1280.7 808.2L1282.0 809.9L1283.4 811.5L1284.8 813.1L1286.2 814.7L1287.6 816.2L1289.0 817.8L1290.4 819.4L1291.8 820.9L1293.2 822.4L1294.6 824.0L1295.9 825.5L1297.3 827.0L1298.7 828.4L1300.1 829.9L1301.5 831.4L1302.9 832.8L1304.3 834.2L1305.7 835.6L1307.1 837.0L1308.5 838.4L1309.8 839.8L1311.2 841.1L1312.6 842.4L1314.0 843.7L1315.4 845.0L1316.8 846.3L1318.2 847.5L1319.6 848.8L1321.0 850.0L1322.4 851.2L1323.7 852.4L1325.1 853.5L1326.5 854.7L1327.9 855.8L1329.3 856.9L1330.7 858.0L1332.1 859.1L1333.5 860.2L1334.9 861.3L1336.2 862.3L1337.6 863.4L1339.0 864.5L1340.4 865.5L1341.8 866.6L1343.2 867.6L1344.6 868.7L1346.0 869.7L1347.4 870.7L1348.8 871.7L1350.1 872.7L1351.5 873.8L1352.9 874.8L1354.3 875.7L1355.7 876.7L1357.1 877.7L1358.5 878.7L1359.9 879.7L1361.3 880.6L1362.7 881.6L1364.0 882.6L1365.4 883.5L1366.8 884.5L1368.2 885.5L1369.6 886.4L1371.0 887.4L1372.4 888.4L1373.8 889.4L1375.2 890.3L1376.6 891.3L1377.9 892.3L1379.3 893.3L1380.7 894.3L1382.1 895.3L1383.5 896.3L1384.9 897.3L1386.3 898.3L1387.7 899.3L1389.1 900.3L1390.5 901.3L1391.8 902.3L1393.2 903.3L1394.6 904.4L1396.0 905.4L1397.4 906.4L1398.8 907.4L1400.2 908.3L1401.6 909.3L1403.0 910.3L1404.4 911.3L1405.7 912.2L1407.1 913.2L1408.5 914.2L1409.9 915.1L1411.3 916.0L1412.7 917.0L1414.1 917.9L1415.5 918.9L1416.9 919.8L1418.2 920.8L1419.6 921.7L1421.0 922.6L1422.4 923.6L1423.8 924.5L1425.2 925.5L1426.6 926.4L1428.0 927.4L1429.4 928.3L1430.8 929.3L1432.1 930.3L1433.5 931.2L1434.9 932.2L1436.3 933.2L1437.7 934.2L1439.1 935.2L1440.5 936.2L1441.9 937.2L1443.3 938.2L1444.7 939.1L1446.0 940.1L1447.4 941.1L1448.8 942.1L1450.2 943.0L1451.6 944.0L1453.0 944.9L1454.4 945.8L1455.8 946.7L1457.2 947.6L1458.6 948.6L1459.9 949.5L1461.3 950.4L1462.7 951.3L1464.1 952.2L1465.5 953.1L1466.9 954.0L1468.3 954.9L1469.7 955.8L1471.1 956.7L1472.5 957.6L1473.8 958.5L1475.2 959.4L1476.6 960.3L1478.0 961.2L1479.4 962.1L1480.8 963.0L1482.2 963.9L1483.6 964.8L1485.0 965.7L1486.3 966.6L1487.7 967.5L1489.1 968.4L1490.5 969.3L1491.9 970.2L1493.3 971.1L1494.7 972.0L1496.1 973.0L1497.5 973.9L1498.9 974.8L1500.2 975.7L1501.6 976.6L1503.0 977.5L1504.4 978.5L1505.8 979.5L1507.2 980.5L1508.6 981.6L1510.0 982.7L1511.4 983.8L1512.8 985.0L1514.1 986.1L1515.5 987.2L1516.9 988.3L1518.3 989.3L1519.7 990.2L1521.1 991.1L1522.5 991.9L1523.9 992.7L1525.3 993.5L1526.7 994.2L1528.0 995.0L1529.4 995.7L1530.8 996.4L1532.2 997.2L1533.6 997.9L1535.0 998.6L1536.4 999.3L1537.8 1000.0L1539.2 1000.8L1540.6 1001.5L1541.9 1002.2L1543.3 1002.9L1544.7 1003.6L1546.1 1004.3L1547.5 1005.0L1548.9 1005.7L1550.3 1006.4L1551.7 1007.1L1553.1 1007.8L1554.5 1008.5L1555.8 1009.2L1557.2 1009.8L1558.6 1010.5L1560.0 1011.1L1561.4 1011.8L1562.8 1012.4L1564.2 1013.0L1565.6 1013.6L1567.0 1014.2L1568.3 1014.7L1569.7 1015.3L1571.1 1015.8L1572.5 1016.3L1573.9 1016.8L1575.3 1017.3L1576.7 1017.8L1578.1 1018.3L1579.5 1018.8L1580.9 1019.3L1582.2 1019.7L1583.6 1020.2L1585.0 1020.7L1586.4 1021.1L1587.8 1021.6L1589.2 1022.1L1590.6 1022.5L1592.0 1023.0L1593.4 1023.4L1594.8 1023.9L1596.1 1024.3L1597.5 1024.7L1598.9 1025.2L1600.3 1025.6L1601.7 1026.0L1603.1 1026.4L1604.5 1026.8L1605.9 1027.2L1607.3 1027.6L1608.7 1027.9L1610.0 1028.3L1611.4 1028.6L1612.8 1028.9L1614.2 1029.3L1615.6 1029.6L1617.0 1029.9L1618.4 1030.2L1619.8 1030.5L1621.2 1030.8L1622.6 1031.1L1623.9 1031.4L1625.3 1031.7L1626.7 1031.9L1628.1 1032.2L1629.5 1032.5L1630.9 1032.7L1632.3 1033.0L1633.7 1033.3L1635.1 1033.5L1636.4 1033.8L1637.8 1034.0L1639.2 1034.2L1640.6 1034.5L1642.0 1034.7L1643.4 1035.0L1644.8 1035.2L1646.2 1035.4L1647.6 1035.7L1649.0 1035.9L1650.3 1036.1L1651.7 1036.4L1653.1 1036.6L1654.5 1036.8L1655.9 1037.0L1657.3 1037.3L1658.7 1037.5L1660.1 1037.7L1661.5 1037.9L1662.9 1038.1L1664.2 1038.3L1665.6 1038.5L1667.0 1038.8L1668.4 1039.0L1669.8 1039.2L1671.2 1039.4L1672.6 1039.6L1674.0 1039.8L1675.4 1040.0L1676.8 1040.2L1678.1 1040.3L1679.5 1040.5L1680.9 1040.7L1682.3 1040.9L1683.7 1041.1L1685.1 1041.3L1686.5 1041.4L1687.9 1041.6L1689.3 1041.8L1690.7 1042.0L1692.0 1042.1L1693.4 1042.3L1694.8 1042.5L1696.2 1042.6L1697.6 1042.8L1699.0 1042.9L1700.4 1043.1L1701.8 1043.2L1703.2 1043.4L1704.6 1043.5L1705.9 1043.6L1707.3 1043.8L1708.7 1043.9L1710.1 1044.0L1711.5 1044.1L1712.9 1044.3L1714.3 1044.4L1715.7 1044.5L1717.1 1044.6L1718.4 1044.7L1719.8 1044.8L1721.2 1044.9L1722.6 1045.0L1724.0 1045.1L1725.4 1045.2L1726.8 1045.3L1728.2 1045.4L1729.6 1045.5L1731.0 1045.6L1732.3 1045.7L1733.7 1045.8L1735.1 1045.8L1736.5 1045.9L1737.9 1046.0L1739.3 1046.1L1740.7 1046.2L1742.1 1046.3L1743.5 1046.3L1744.9 1046.4L1746.2 1046.5L1747.6 1046.6L1749.0 1046.6L1750.4 1046.7L1751.8 1046.8L1753.2 1046.9L1754.6 1046.9L1756.0 1047.0L1757.4 1047.0L1758.8 1047.1L1760.1 1047.2L1761.5 1047.2L1762.9 1047.3L1764.3 1047.3L1765.7 1047.4L1767.1 1047.5L1768.5 1047.5L1769.9 1047.6L1771.3 1047.6L1772.7 1047.6L1774.0 1047.7L1775.4 1047.7L1776.8 1047.7L1778.2 1047.8L1779.6 1047.8L1781.0 1047.8L1782.4 1047.8L1783.8 1047.8L1785.2 1047.8L1786.5 1047.8L1787.9 1047.7L1789.3 1047.7L1790.7 1047.7L1792.1 1047.7L1793.5 1047.6L1794.9 1047.6L1796.3 1047.5L1797.7 1047.5L1799.1 1047.4L1800.4 1047.4L1801.8 1047.3L1803.2 1047.2L1804.6 1047.1L1806.0 1047.0L1807.4 1046.9L1808.8 1046.8L1810.2 1046.7L1811.6 1046.5L1813.0 1046.4L1814.3 1046.3L1815.7 1046.1L1817.1 1045.9L1818.5 1045.8L1819.9 1045.6L1821.3 1045.4L1822.7 1045.3L1824.1 1045.1L1825.5 1044.9L1826.9 1044.7L1828.2 1044.5L1829.6 1044.3L1831.0 1044.1L1832.4 1043.9L1833.8 1043.7L1835.2 1043.5L1836.6 1043.2L1838.0 1043.0L1839.4 1042.7L1840.8 1042.5L1842.1 1042.2L1843.5 1042.0L1844.9 1041.7L1846.3 1041.4L1847.7 1041.1L1849.1 1040.8L1850.5 1040.5L1851.9 1040.2L1853.3 1039.9L1854.7 1039.6L1856.0 1039.2L1857.4 1038.9L1858.8 1038.5L1860.2 1038.1L1861.6 1037.8L1863.0 1037.4L1864.4 1037.0L1865.8 1036.5L1867.2 1036.1L1868.5 1035.7L1869.9 1035.2L1871.3 1034.8L1872.7 1034.3L1874.1 1033.8L1875.5 1033.3L1876.9 1032.8L1878.3 1032.3L1879.7 1031.8L1881.1 1031.3L1882.4 1030.7L1883.8 1030.2L1885.2 1029.6L1886.6 1029.1L1888.0 1028.5L1889.4 1027.9L1890.8 1027.3L1892.2 1026.7L1893.6 1026.1L1895.0 1025.5L1896.3 1024.9L1897.7 1024.3L1899.1 1023.6L1900.5 1023.0L1901.9 1022.4L1903.3 1021.7L1904.7 1021.1L1906.1 1020.4L1907.5 1019.7L1908.9 1019.0L1910.2 1018.4L1911.6 1017.7L1913.0 1017.0L1914.4 1016.3L1915.8 1015.6L1917.2 1014.9L1918.6 1014.2L1920.0 1013.4L1921.4 1012.7L1922.8 1012.0L1924.1 1011.3L1925.5 1010.5L1926.9 1009.8L1928.3 1009.0L1929.7 1008.3L1931.1 1007.5L1932.5 1006.7L1933.9 1006.0L1935.3 1005.2L1936.6 1004.4L1938.0 1003.5L1939.4 1002.7L1940.8 1001.9L1942.2 1001.0L1943.6 1000.2L1945.0 999.3L1946.4 998.4L1947.8 997.6L1949.2 996.7L1950.5 995.8L1951.9 994.9L1953.3 994.0L1954.7 993.1L1956.1 992.2L1957.5 991.3L1958.9 990.4L1960.3 989.5L1961.7 988.6L1963.1 987.6L1964.4 986.7L1965.8 985.8L1967.2 984.8L1968.6 983.9L1970.0 982.9L1971.4 982.0L1972.8 981.1L1974.2 980.1L1975.6 979.1L1977.0 978.2L1978.3 977.2L1979.7 976.3L1981.1 975.3L1982.5 974.3L1983.9 973.4L1985.3 972.4L1986.7 971.4L1988.1 970.5L1989.5 969.5L1990.9 968.5L1992.2 967.5L1993.6 966.6L1995.0 965.6L1996.4 964.6L1997.8 963.6L1999.2 962.6L2000.6 961.6L2002.0 960.6L2003.4 959.6L2004.8 958.6L2006.1 957.6L2007.5 956.6L2008.9 955.5L2010.3 954.5L2011.7 953.5L2013.1 952.5L2014.5 951.5L2015.9 950.4L2017.3 949.4L2018.6 948.3L2020.0 947.3L2021.4 946.2L2022.8 945.2L2024.2 944.1L2025.6 943.0L2027.0 942.0L2028.4 940.9L2029.8 939.8L2031.2 938.7L2032.5 937.6L2033.9 936.5L2035.3 935.4L2036.7 934.3L2038.1 933.2L2039.5 932.0L2040.9 930.9L2042.3 929.8L2043.7 928.7L2045.1 927.6L2046.4 926.5L2047.8 925.4L2049.2 924.2L2050.6 923.1L2052.0 922.0L2053.4 920.9L2054.8 919.8L2056.2 918.7L2057.6 917.6L2059.0 916.5L2060.3 915.4L2061.7 914.3L2063.1 913.2L2064.5 912.1L2065.9 910.9L2067.3 909.8L2068.7 908.7L2070.1 907.6L2071.5 906.5L2072.9 905.4L2074.2 904.3L2075.6 903.2L2077.0 902.1L2078.4 901.0L2079.8 899.9L2081.2 898.8L2082.6 897.7L2084.0 896.6L2085.4 895.5L2086.8 894.4L2086.8 1226.0L2085.4 1224.9L2084.0 1223.7L2082.6 1222.6L2081.2 1221.5L2079.8 1220.4L2078.4 1219.3L2077.0 1218.2L2075.6 1217.1L2074.2 1216.0L2072.9 1214.9L2071.5 1213.8L2070.1 1212.7L2068.7 1211.6L2067.3 1210.6L2065.9 1209.5L2064.5 1208.5L2063.1 1207.4L2061.7 1206.4L2060.3 1205.4L2059.0 1204.4L2057.6 1203.5L2056.2 1202.5L2054.8 1201.6L2053.4 1200.6L2052.0 1199.7L2050.6 1198.8L2049.2 1197.8L2047.8 1196.9L2046.4 1196.0L2045.1 1195.1L2043.7 1194.2L2042.3 1193.3L2040.9 1192.4L2039.5 1191.6L2038.1 1190.7L2036.7 1189.8L2035.3 1189.0L2033.9 1188.1L2032.5 1187.2L2031.2 1186.4L2029.8 1185.5L2028.4 1184.7L2027.0 1183.8L2025.6 1183.0L2024.2 1182.1L2022.8 1181.3L2021.4 1180.4L2020.0 1179.6L2018.6 1178.7L2017.3 1177.9L2015.9 1177.1L2014.5 1176.2L2013.1 1175.4L2011.7 1174.6L2010.3 1173.8L2008.9 1172.9L2007.5 1172.1L2006.1 1171.3L2004.8 1170.5L2003.4 1169.7L2002.0 1168.9L2000.6 1168.1L1999.2 1167.3L1997.8 1166.5L1996.4 1165.7L1995.0 1164.9L1993.6 1164.1L1992.2 1163.3L1990.9 1162.6L1989.5 1161.8L1988.1 1161.0L1986.7 1160.2L1985.3 1159.5L1983.9 1158.7L1982.5 1157.9L1981.1 1157.2L1979.7 1156.4L1978.3 1155.7L1977.0 1154.9L1975.6 1154.2L1974.2 1153.4L1972.8 1152.7L1971.4 1151.9L1970.0 1151.2L1968.6 1150.5L1967.2 1149.7L1965.8 1149.0L1964.4 1148.3L1963.1 1147.6L1961.7 1146.9L1960.3 1146.1L1958.9 1145.4L1957.5 1144.7L1956.1 1144.1L1954.7 1143.4L1953.3 1142.7L1951.9 1142.0L1950.5 1141.3L1949.2 1140.7L1947.8 1140.0L1946.4 1139.4L1945.0 1138.7L1943.6 1138.1L1942.2 1137.5L1940.8 1136.9L1939.4 1136.3L1938.0 1135.6L1936.6 1135.1L1935.3 1134.5L1933.9 1133.9L1932.5 1133.3L1931.1 1132.7L1929.7 1132.2L1928.3 1131.6L1926.9 1131.1L1925.5 1130.5L1924.1 1130.0L1922.8 1129.4L1921.4 1128.9L1920.0 1128.3L1918.6 1127.8L1917.2 1127.3L1915.8 1126.8L1914.4 1126.2L1913.0 1125.7L1911.6 1125.2L1910.2 1124.7L1908.9 1124.2L1907.5 1123.7L1906.1 1123.2L1904.7 1122.7L1903.3 1122.1L1901.9 1121.6L1900.5 1121.2L1899.1 1120.7L1897.7 1120.2L1896.3 1119.7L1895.0 1119.2L1893.6 1118.7L1892.2 1118.3L1890.8 1117.8L1889.4 1117.3L1888.0 1116.9L1886.6 1116.4L1885.2 1115.9L1883.8 1115.5L1882.4 1115.0L1881.1 1114.6L1879.7 1114.2L1878.3 1113.8L1876.9 1113.3L1875.5 1112.9L1874.1 1112.5L1872.7 1112.1L1871.3 1111.7L1869.9 1111.3L1868.5 1110.9L1867.2 1110.5L1865.8 1110.2L1864.4 1109.8L1863.0 1109.4L1861.6 1109.1L1860.2 1108.7L1858.8 1108.3L1857.4 1108.0L1856.0 1107.7L1854.7 1107.3L1853.3 1107.0L1851.9 1106.7L1850.5 1106.3L1849.1 1106.0L1847.7 1105.7L1846.3 1105.4L1844.9 1105.1L1843.5 1104.8L1842.1 1104.5L1840.8 1104.2L1839.4 1103.9L1838.0 1103.6L1836.6 1103.4L1835.2 1103.1L1833.8 1102.8L1832.4 1102.6L1831.0 1102.3L1829.6 1102.1L1828.2 1101.9L1826.9 1101.6L1825.5 1101.4L1824.1 1101.2L1822.7 1101.0L1821.3 1100.8L1819.9 1100.6L1818.5 1100.4L1817.1 1100.2L1815.7 1100.0L1814.3 1099.8L1813.0 1099.6L1811.6 1099.4L1810.2 1099.2L1808.8 1099.0L1807.4 1098.9L1806.0 1098.7L1804.6 1098.5L1803.2 1098.4L1801.8 1098.2L1800.4 1098.1L1799.1 1097.9L1797.7 1097.8L1796.3 1097.6L1794.9 1097.5L1793.5 1097.3L1792.1 1097.2L1790.7 1097.1L1789.3 1097.0L1787.9 1096.8L1786.5 1096.7L1785.2 1096.6L1783.8 1096.4L1782.4 1096.3L1781.0 1096.2L1779.6 1096.1L1778.2 1095.9L1776.8 1095.8L1775.4 1095.7L1774.0 1095.5L1772.7 1095.4L1771.3 1095.2L1769.9 1095.1L1768.5 1094.9L1767.1 1094.8L1765.7 1094.6L1764.3 1094.4L1762.9 1094.3L1761.5 1094.1L1760.1 1093.9L1758.8 1093.7L1757.4 1093.6L1756.0 1093.4L1754.6 1093.2L1753.2 1093.0L1751.8 1092.8L1750.4 1092.6L1749.0 1092.3L1747.6 1092.1L1746.2 1091.9L1744.9 1091.6L1743.5 1091.4L1742.1 1091.1L1740.7 1090.9L1739.3 1090.6L1737.9 1090.4L1736.5 1090.1L1735.1 1089.8L1733.7 1089.5L1732.3 1089.3L1731.0 1089.0L1729.6 1088.7L1728.2 1088.4L1726.8 1088.1L1725.4 1087.8L1724.0 1087.5L1722.6 1087.3L1721.2 1087.0L1719.8 1086.7L1718.4 1086.4L1717.1 1086.1L1715.7 1085.8L1714.3 1085.5L1712.9 1085.2L1711.5 1084.9L1710.1 1084.6L1708.7 1084.3L1707.3 1084.0L1705.9 1083.7L1704.6 1083.4L1703.2 1083.1L1701.8 1082.7L1700.4 1082.4L1699.0 1082.1L1697.6 1081.8L1696.2 1081.5L1694.8 1081.1L1693.4 1080.8L1692.0 1080.5L1690.7 1080.1L1689.3 1079.8L1687.9 1079.4L1686.5 1079.1L1685.1 1078.7L1683.7 1078.3L1682.3 1077.9L1680.9 1077.5L1679.5 1077.1L1678.1 1076.7L1676.8 1076.3L1675.4 1075.8L1674.0 1075.4L1672.6 1075.0L1671.2 1074.5L1669.8 1074.0L1668.4 1073.6L1667.0 1073.1L1665.6 1072.6L1664.2 1072.1L1662.9 1071.6L1661.5 1071.1L1660.1 1070.6L1658.7 1070.1L1657.3 1069.6L1655.9 1069.1L1654.5 1068.6L1653.1 1068.0L1651.7 1067.5L1650.3 1067.0L1649.0 1066.5L1647.6 1065.9L1646.2 1065.4L1644.8 1064.9L1643.4 1064.3L1642.0 1063.8L1640.6 1063.3L1639.2 1062.7L1637.8 1062.2L1636.4 1061.6L1635.1 1061.1L1633.7 1060.6L1632.3 1060.0L1630.9 1059.5L1629.5 1058.9L1628.1 1058.4L1626.7 1057.8L1625.3 1057.3L1623.9 1056.7L1622.6 1056.2L1621.2 1055.6L1619.8 1055.0L1618.4 1054.5L1617.0 1053.9L1615.6 1053.3L1614.2 1052.7L1612.8 1052.1L1611.4 1051.5L1610.0 1050.9L1608.7 1050.3L1607.3 1049.7L1605.9 1049.1L1604.5 1048.4L1603.1 1047.8L1601.7 1047.1L1600.3 1046.5L1598.9 1045.8L1597.5 1045.2L1596.1 1044.5L1594.8 1043.8L1593.4 1043.1L1592.0 1042.4L1590.6 1041.7L1589.2 1041.0L1587.8 1040.3L1586.4 1039.6L1585.0 1038.9L1583.6 1038.2L1582.2 1037.4L1580.9 1036.7L1579.5 1036.0L1578.1 1035.3L1576.7 1034.5L1575.3 1033.8L1573.9 1033.1L1572.5 1032.4L1571.1 1031.6L1569.7 1030.9L1568.3 1030.2L1567.0 1029.4L1565.6 1028.7L1564.2 1028.0L1562.8 1027.3L1561.4 1026.5L1560.0 1025.8L1558.6 1025.1L1557.2 1024.4L1555.8 1023.6L1554.5 1022.9L1553.1 1022.2L1551.7 1021.4L1550.3 1020.7L1548.9 1020.0L1547.5 1019.3L1546.1 1018.5L1544.7 1017.8L1543.3 1017.1L1541.9 1016.4L1540.6 1015.6L1539.2 1014.9L1537.8 1014.2L1536.4 1013.5L1535.0 1012.8L1533.6 1012.1L1532.2 1011.4L1530.8 1010.8L1529.4 1010.2L1528.0 1009.6L1526.7 1009.0L1525.3 1008.4L1523.9 1007.9L1522.5 1007.3L1521.1 1006.8L1519.7 1006.2L1518.3 1005.7L1516.9 1005.1L1515.5 1004.5L1514.1 1003.9L1512.8 1003.3L1511.4 1002.7L1510.0 1002.1L1508.6 1001.5L1507.2 1000.9L1505.8 1000.4L1504.4 999.8L1503.0 999.2L1501.6 998.7L1500.2 998.1L1498.9 997.6L1497.5 997.0L1496.1 996.5L1494.7 995.9L1493.3 995.4L1491.9 994.9L1490.5 994.3L1489.1 993.8L1487.7 993.2L1486.3 992.7L1485.0 992.1L1483.6 991.5L1482.2 990.9L1480.8 990.3L1479.4 989.7L1478.0 989.1L1476.6 988.5L1475.2 987.9L1473.8 987.2L1472.5 986.6L1471.1 986.0L1469.7 985.4L1468.3 984.7L1466.9 984.1L1465.5 983.5L1464.1 982.9L1462.7 982.2L1461.3 981.6L1459.9 981.0L1458.6 980.3L1457.2 979.7L1455.8 979.1L1454.4 978.5L1453.0 977.8L1451.6 977.2L1450.2 976.6L1448.8 976.0L1447.4 975.3L1446.0 974.7L1444.7 974.1L1443.3 973.5L1441.9 972.8L1440.5 972.2L1439.1 971.6L1437.7 971.0L1436.3 970.3L1434.9 969.7L1433.5 969.1L1432.1 968.5L1430.8 967.8L1429.4 967.2L1428.0 966.6L1426.6 966.0L1425.2 965.4L1423.8 964.8L1422.4 964.2L1421.0 963.6L1419.6 963.1L1418.2 962.5L1416.9 961.9L1415.5 961.3L1414.1 960.8L1412.7 960.2L1411.3 959.7L1409.9 959.1L1408.5 958.6L1407.1 958.0L1405.7 957.5L1404.4 957.0L1403.0 956.4L1401.6 955.9L1400.2 955.4L1398.8 954.9L1397.4 954.4L1396.0 953.9L1394.6 953.4L1393.2 952.9L1391.8 952.5L1390.5 952.0L1389.1 951.6L1387.7 951.1L1386.3 950.7L1384.9 950.2L1383.5 949.8L1382.1 949.4L1380.7 949.0L1379.3 948.6L1377.9 948.2L1376.6 947.8L1375.2 947.4L1373.8 947.0L1372.4 946.6L1371.0 946.3L1369.6 945.9L1368.2 945.5L1366.8 945.2L1365.4 944.9L1364.0 944.5L1362.7 944.2L1361.3 943.9L1359.9 943.6L1358.5 943.3L1357.1 943.0L1355.7 942.7L1354.3 942.4L1352.9 942.1L1351.5 941.8L1350.1 941.6L1348.8 941.3L1347.4 941.1L1346.0 940.8L1344.6 940.6L1343.2 940.4L1341.8 940.2L1340.4 940.0L1339.0 939.8L1337.6 939.6L1336.2 939.4L1334.9 939.3L1333.5 939.1L1332.1 939.0L1330.7 938.8L1329.3 938.7L1327.9 938.6L1326.5 938.5L1325.1 938.4L1323.7 938.3L1322.4 938.2L1321.0 938.2L1319.6 938.1L1318.2 938.1L1316.8 938.0L1315.4 938.0L1314.0 938.0L1312.6 938.0L1311.2 938.0L1309.8 938.0L1308.5 938.0L1307.1 938.0L1305.7 938.0L1304.3 938.0L1302.9 938.1L1301.5 938.1L1300.1 938.2L1298.7 938.2L1297.3 938.3L1295.9 938.4L1294.6 938.5L1293.2 938.6L1291.8 938.7L1290.4 938.8L1289.0 939.0L1287.6 939.1L1286.2 939.2L1284.8 939.4L1283.4 939.6L1282.0 939.8L1280.7 939.9L1279.3 940.1L1277.9 940.4L1276.5 940.6L1275.1 940.8L1273.7 941.1L1272.3 941.3L1270.9 941.6L1269.5 941.9L1268.1 942.2L1266.8 942.5L1265.4 942.8L1264.0 943.2L1262.6 943.5L1261.2 943.9L1259.8 944.2L1258.4 944.6L1257.0 945.0L1255.6 945.4L1254.2 945.8Z" fill="#cccccc"/>
<path d="M1254.2 860.8L1255.6 861.4L1257.0 862.0L1258.4 862.6L1259.8 863.3L1261.2 863.9L1262.6 864.5L1264.0 865.2L1265.4 865.8L1266.8 866.4L1268.1 867.0L1269.5 867.7L1270.9 868.3L1272.3 868.9L1273.7 869.6L1275.1 870.2L1276.5 870.8L1277.9 871.5L1279.3 872.1L1280.7 872.7L1282.0 873.4L1283.4 874.0L1284.8 874.6L1286.2 875.3L1287.6 875.9L1289.0 876.5L1290.4 877.2L1291.8 877.8L1293.2 878.5L1294.6 879.1L1295.9 879.7L1297.3 880.4L1298.7 881.0L1300.1 881.7L1301.5 882.3L1302.9 882.9L1304.3 883.6L1305.7 884.2L1307.1 884.9L1308.5 885.5L1309.8 886.2L1311.2 886.8L1312.6 887.5L1314.0 888.1L1315.4 888.8L1316.8 889.4L1318.2 890.1L1319.6 890.7L1321.0 891.4L1322.4 892.0L1323.7 892.7L1325.1 893.4L1326.5 894.0L1327.9 894.7L1329.3 895.3L1330.7 896.0L1332.1 896.7L1333.5 897.3L1334.9 898.0L1336.2 898.7L1337.6 899.3L1339.0 900.0L1340.4 900.7L1341.8 901.4L1343.2 902.0L1344.6 902.7L1346.0 903.4L1347.4 904.1L1348.8 904.8L1350.1 905.4L1351.5 906.1L1352.9 906.8L1354.3 907.5L1355.7 908.2L1357.1 908.9L1358.5 909.6L1359.9 910.3L1361.3 911.0L1362.7 911.7L1364.0 912.4L1365.4 913.1L1366.8 913.8L1368.2 914.5L1369.6 915.2L1371.0 915.9L1372.4 916.6L1373.8 917.3L1375.2 918.0L1376.6 918.7L1377.9 919.5L1379.3 920.2L1380.7 920.9L1382.1 921.6L1383.5 922.4L1384.9 923.1L1386.3 923.8L1387.7 924.6L1389.1 925.3L1390.5 926.0L1391.8 926.8L1393.2 927.5L1394.6 928.2L1396.0 929.0L1397.4 929.7L1398.8 930.5L1400.2 931.2L1401.6 932.0L1403.0 932.8L1404.4 933.5L1405.7 934.3L1407.1 935.0L1408.5 935.8L1409.9 936.5L1411.3 937.3L1412.7 938.1L1414.1 938.8L1415.5 939.6L1416.9 940.3L1418.2 941.1L1419.6 941.9L1421.0 942.6L1422.4 943.4L1423.8 944.1L1425.2 944.9L1426.6 945.7L1428.0 946.4L1429.4 947.2L1430.8 947.9L1432.1 948.7L1433.5 949.5L1434.9 950.2L1436.3 951.0L1437.7 951.8L1439.1 952.5L1440.5 953.3L1441.9 954.0L1443.3 954.8L1444.7 955.6L1446.0 956.3L1447.4 957.1L1448.8 957.9L1450.2 958.6L1451.6 959.4L1453.0 960.1L1454.4 960.9L1455.8 961.7L1457.2 962.4L1458.6 963.2L1459.9 964.0L1461.3 964.7L1462.7 965.5L1464.1 966.3L1465.5 967.0L1466.9 967.8L1468.3 968.6L1469.7 969.3L1471.1 970.1L1472.5 970.8L1473.8 971.6L1475.2 972.4L1476.6 973.1L1478.0 973.9L1479.4 974.7L1480.8 975.4L1482.2 976.2L1483.6 977.0L1485.0 977.7L1486.3 978.5L1487.7 979.3L1489.1 980.0L1490.5 980.8L1491.9 981.5L1493.3 982.3L1494.7 983.1L1496.1 983.8L1497.5 984.6L1498.9 985.4L1500.2 986.1L1501.6 986.9L1503.0 987.7L1504.4 988.5L1505.8 989.3L1507.2 990.1L1508.6 990.9L1510.0 991.8L1511.4 992.6L1512.8 993.5L1514.1 994.3L1515.5 995.2L1516.9 996.0L1518.3 996.8L1519.7 997.6L1521.1 998.3L1522.5 999.0L1523.9 999.8L1525.3 1000.5L1526.7 1001.2L1528.0 1001.9L1529.4 1002.6L1530.8 1003.3L1532.2 1004.0L1533.6 1004.7L1535.0 1005.4L1536.4 1006.1L1537.8 1006.9L1539.2 1007.6L1540.6 1008.3L1541.9 1009.1L1543.3 1009.8L1544.7 1010.5L1546.1 1011.3L1547.5 1012.0L1548.9 1012.7L1550.3 1013.5L1551.7 1014.2L1553.1 1014.9L1554.5 1015.6L1555.8 1016.4L1557.2 1017.1L1558.6 1017.8L1560.0 1018.5L1561.4 1019.2L1562.8 1019.9L1564.2 1020.5L1565.6 1021.2L1567.0 1021.9L1568.3 1022.5L1569.7 1023.2L1571.1 1023.8L1572.5 1024.4L1573.9 1025.1L1575.3 1025.7L1576.7 1026.3L1578.1 1026.9L1579.5 1027.5L1580.9 1028.1L1582.2 1028.6L1583.6 1029.2L1585.0 1029.8L1586.4 1030.4L1587.8 1030.9L1589.2 1031.5L1590.6 1032.0L1592.0 1032.6L1593.4 1033.1L1594.8 1033.6L1596.1 1034.2L1597.5 1034.7L1598.9 1035.2L1600.3 1035.7L1601.7 1036.2L1603.1 1036.7L1604.5 1037.2L1605.9 1037.7L1607.3 1038.2L1608.7 1038.7L1610.0 1039.2L1611.4 1039.7L1612.8 1040.2L1614.2 1040.7L1615.6 1041.2L1617.0 1041.7L1618.4 1042.1L1619.8 1042.6L1621.2 1043.1L1622.6 1043.6L1623.9 1044.0L1625.3 1044.5L1626.7 1045.0L1628.1 1045.4L1629.5 1045.9L1630.9 1046.3L1632.3 1046.7L1633.7 1047.2L1635.1 1047.6L1636.4 1048.0L1637.8 1048.4L1639.2 1048.8L1640.6 1049.2L1642.0 1049.5L1643.4 1049.9L1644.8 1050.3L1646.2 1050.6L1647.6 1051.0L1649.0 1051.3L1650.3 1051.7L1651.7 1052.0L1653.1 1052.4L1654.5 1052.7L1655.9 1053.1L1657.3 1053.4L1658.7 1053.7L1660.1 1054.1L1661.5 1054.4L1662.9 1054.7L1664.2 1055.1L1665.6 1055.4L1667.0 1055.7L1668.4 1056.0L1669.8 1056.3L1671.2 1056.7L1672.6 1057.0L1674.0 1057.3L1675.4 1057.6L1676.8 1057.9L1678.1 1058.2L1679.5 1058.6L1680.9 1058.9L1682.3 1059.2L1683.7 1059.5L1685.1 1059.8L1686.5 1060.1L1687.9 1060.4L1689.3 1060.7L1690.7 1061.0L1692.0 1061.3L1693.4 1061.5L1694.8 1061.8L1696.2 1062.1L1697.6 1062.4L1699.0 1062.6L1700.4 1062.9L1701.8 1063.2L1703.2 1063.4L1704.6 1063.7L1705.9 1063.9L1707.3 1064.2L1708.7 1064.4L1710.1 1064.6L1711.5 1064.9L1712.9 1065.1L1714.3 1065.3L1715.7 1065.5L1717.1 1065.7L1718.4 1065.9L1719.8 1066.1L1721.2 1066.4L1722.6 1066.5L1724.0 1066.7L1725.4 1066.9L1726.8 1067.1L1728.2 1067.3L1729.6 1067.5L1731.0 1067.7L1732.3 1067.8L1733.7 1068.0L1735.1 1068.2L1736.5 1068.3L1737.9 1068.5L1739.3 1068.6L1740.7 1068.8L1742.1 1068.9L1743.5 1069.1L1744.9 1069.2L1746.2 1069.4L1747.6 1069.5L1749.0 1069.6L1750.4 1069.8L1751.8 1069.9L1753.2 1070.0L1754.6 1070.1L1756.0 1070.2L1757.4 1070.4L1758.8 1070.5L1760.1 1070.6L1761.5 1070.7L1762.9 1070.8L1764.3 1070.9L1765.7 1071.0L1767.1 1071.1L1768.5 1071.2L1769.9 1071.3L1771.3 1071.4L1772.7 1071.5L1774.0 1071.6L1775.4 1071.7L1776.8 1071.8L1778.2 1071.9L1779.6 1072.0L1781.0 1072.0L1782.4 1072.1L1783.8 1072.2L1785.2 1072.3L1786.5 1072.4L1787.9 1072.4L1789.3 1072.5L1790.7 1072.6L1792.1 1072.6L1793.5 1072.7L1794.9 1072.7L1796.3 1072.8L1797.7 1072.8L1799.1 1072.9L1800.4 1072.9L1801.8 1072.9L1803.2 1073.0L1804.6 1073.0L1806.0 1073.0L1807.4 1073.0L1808.8 1073.0L1810.2 1073.0L1811.6 1073.0L1813.0 1073.0L1814.3 1073.0L1815.7 1073.0L1817.1 1073.0L1818.5 1073.0L1819.9 1073.0L1821.3 1073.0L1822.7 1072.9L1824.1 1072.9L1825.5 1072.9L1826.9 1072.9L1828.2 1072.8L1829.6 1072.8L1831.0 1072.8L1832.4 1072.7L1833.8 1072.7L1835.2 1072.7L1836.6 1072.7L1838.0 1072.6L1839.4 1072.6L1840.8 1072.5L1842.1 1072.5L1843.5 1072.5L1844.9 1072.4L1846.3 1072.4L1847.7 1072.3L1849.1 1072.2L1850.5 1072.2L1851.9 1072.1L1853.3 1072.0L1854.7 1072.0L1856.0 1071.9L1857.4 1071.8L1858.8 1071.7L1860.2 1071.6L1861.6 1071.6L1863.0 1071.5L1864.4 1071.4L1865.8 1071.3L1867.2 1071.2L1868.5 1071.1L1869.9 1071.0L1871.3 1070.9L1872.7 1070.9L1874.1 1070.8L1875.5 1070.7L1876.9 1070.6L1878.3 1070.5L1879.7 1070.4L1881.1 1070.3L1882.4 1070.3L1883.8 1070.2L1885.2 1070.1L1886.6 1070.0L1888.0 1070.0L1889.4 1069.9L1890.8 1069.8L1892.2 1069.7L1893.6 1069.6L1895.0 1069.6L1896.3 1069.5L1897.7 1069.4L1899.1 1069.3L1900.5 1069.3L1901.9 1069.2L1903.3 1069.1L1904.7 1069.0L1906.1 1069.0L1907.5 1068.9L1908.9 1068.8L1910.2 1068.7L1911.6 1068.6L1913.0 1068.6L1914.4 1068.5L1915.8 1068.4L1917.2 1068.3L1918.6 1068.3L1920.0 1068.2L1921.4 1068.1L1922.8 1068.0L1924.1 1068.0L1925.5 1067.9L1926.9 1067.8L1928.3 1067.7L1929.7 1067.7L1931.1 1067.6L1932.5 1067.5L1933.9 1067.4L1935.3 1067.4L1936.6 1067.3L1938.0 1067.2L1939.4 1067.1L1940.8 1067.1L1942.2 1067.0L1943.6 1066.9L1945.0 1066.9L1946.4 1066.8L1947.8 1066.7L1949.2 1066.6L1950.5 1066.6L1951.9 1066.5L1953.3 1066.4L1954.7 1066.4L1956.1 1066.3L1957.5 1066.2L1958.9 1066.2L1960.3 1066.1L1961.7 1066.0L1963.1 1065.9L1964.4 1065.9L1965.8 1065.8L1967.2 1065.7L1968.6 1065.7L1970.0 1065.6L1971.4 1065.5L1972.8 1065.4L1974.2 1065.4L1975.6 1065.3L1977.0 1065.2L1978.3 1065.2L1979.7 1065.1L1981.1 1065.0L1982.5 1064.9L1983.9 1064.9L1985.3 1064.8L1986.7 1064.7L1988.1 1064.7L1989.5 1064.6L1990.9 1064.5L1992.2 1064.4L1993.6 1064.4L1995.0 1064.3L1996.4 1064.2L1997.8 1064.2L1999.2 1064.1L2000.6 1064.0L2002.0 1064.0L2003.4 1063.9L2004.8 1063.8L2006.1 1063.7L2007.5 1063.7L2008.9 1063.6L2010.3 1063.5L2011.7 1063.5L2013.1 1063.4L2014.5 1063.3L2015.9 1063.2L2017.3 1063.2L2018.6 1063.1L2020.0 1063.0L2021.4 1063.0L2022.8 1062.9L2024.2 1062.8L2025.6 1062.7L2027.0 1062.7L2028.4 1062.6L2029.8 1062.5L2031.2 1062.5L2032.5 1062.4L2033.9 1062.3L2035.3 1062.2L2036.7 1062.2L2038.1 1062.1L2039.5 1062.0L2040.9 1062.0L2042.3 1061.9L2043.7 1061.8L2045.1 1061.7L2046.4 1061.7L2047.8 1061.6L2049.2 1061.5L2050.6 1061.5L2052.0 1061.4L2053.4 1061.3L2054.8 1061.2L2056.2 1061.2L2057.6 1061.1L2059.0 1061.0L2060.3 1061.0L2061.7 1060.9L2063.1 1060.8L2064.5 1060.7L2065.9 1060.7L2067.3 1060.6L2068.7 1060.5L2070.1 1060.5L2071.5 1060.4L2072.9 1060.3L2074.2 1060.2L2075.6 1060.2L2077.0 1060.1L2078.4 1060.0L2079.8 1060.0L2081.2 1059.9L2082.6 1059.8L2084.0 1059.7L2085.4 1059.7L2086.8 1059.6" fill="none" stroke="#000" stroke-width="1.5"/>
</g>
<path d="M1221.25 754.15V1199.95M1221.25 1199.95H1209.75M1221.25 1110.79H1209.75M1221.25 1021.63H1209.75M1221.25 932.47H1209.75M1221.25 843.31H1209.75M1221.25 754.15H1209.75M1347.11 1218.15H2086.89M1347.11 1218.15V1229.75M1532.05 1218.15V1229.75M1716.99 1218.15V1229.75M1901.94 1218.15V1229.75M2086.88 1218.15V1229.75" fill="none" stroke="#000" stroke-width="1.7" stroke-linecap="round" stroke-linejoin="round"/>
<g transform="translate(1042.15 648.05)"><g shape-rendering="crispEdges" stroke="none"><path d="M256 555h1v15h-1zM259 555h1v15h-1zM266 555h1v15h-1zM269 555h1v15h-1zM305 555h1v15h-1zM308 555h1v15h-1zM311 555h1v15h-1zM343 555h1v15h-1zM348 555h1v15h-1zM355 555h1v15h-1zM380 555h1v15h-1zM393 555h1v15h-1zM395 555h1v15h-1zM401 555h1v15h-1zM411 555h1v15h-1zM413 555h1v15h-1zM617 555h1v15h-1zM648 555h1v15h-1zM681 555h1v15h-1zM700 555h1v15h-1zM705 555h1v15h-1zM707 555h1v15h-1zM713 555h1v15h-1zM725 555h1v15h-1zM728 555h1v15h-1zM736 555h1v15h-1zM741 555h1v15h-1zM743 555h1v15h-1zM767 555h1v15h-1zM772 555h1v15h-1zM774 555h1v15h-1zM791 555h1v15h-1zM802 555h1v15h-1zM813 555h1v15h-1zM834 555h1v15h-1zM845 555h1v15h-1zM860 555h1v15h-1zM869 555h1v15h-1zM873 555h1v15h-1zM883 555h1v15h-1zM927 555h1v15h-1zM930 555h1v15h-1zM933 555h1v15h-1zM951 555h1v15h-1zM954 555h1v15h-1zM957 555h1v15h-1zM981 555h1v15h-1zM991 555h1v15h-1zM1025 555h1v15h-1zM1027 555h1v15h-1zM1029 555h1v15h-1zM1032 555h1v15h-1zM1034 555h1v15h-1z" fill="#111"/><path d="M630 555h1v15h-1zM663 555h1v15h-1zM690 555h1v15h-1zM753 555h1v15h-1zM757 555h1v15h-1zM794 555h1v15h-1zM823 555h1v15h-1zM898 555h1v15h-1zM949 555h1v15h-1z" fill="#777"/><path d="M360 555h2v15h-2zM387 555h2v15h-2zM397 555h1v15h-1zM403 555h1v15h-1zM415 555h6v15h-6zM426 555h5v15h-5zM433 555h4v15h-4zM438 555h1v15h-1zM440 555h2v15h-2zM443 555h2v15h-2zM447 555h3v15h-3zM456 555h6v15h-6zM462 555h40v15h-40zM503 555h9v15h-9zM513 555h29v15h-29zM542 555h4v15h-4zM550 555h6v15h-6zM559 555h1v15h-1zM561 555h7v15h-7zM569 555h3v15h-3zM574 555h5v15h-5zM581 555h2v15h-2zM591 555h3v15h-3zM599 555h4v15h-4zM606 555h3v15h-3zM638 555h2v15h-2zM669 555h4v15h-4zM674 555h3v15h-3zM715 555h2v15h-2zM720 555h4v15h-4zM731 555h1v15h-1zM741 555h1v15h-1zM731 555h1v15h-1zM784 555h3v15h-3zM913 555h2v15h-2zM968 555h2v15h-2zM985 555h4v15h-4zM1006 555h3v15h-3z" fill="#000"/><path d="M421 555h4v15h-4zM546 555h4v15h-4zM572 555h2v15h-2zM588 555h3v15h-3zM641 555h3v15h-3zM709 555h2v15h-2z" fill="#707070"/></g></g>
<path d="M1402.50 744.25V1216.25" stroke="#d41212" stroke-width="4" stroke-dasharray="10.2 18.75" stroke-linecap="round" fill="none"/>
<path d="M1532.05 736.30V1218.05" stroke="#0c76a1" stroke-width="3.8" fill="none"/>
<text transform="translate(1193.65 1200.75) rotate(-90)" class="tk" font-size="30.5" text-anchor="middle">−3</text>
<text transform="translate(1193.65 1111.59) rotate(-90)" class="tk" font-size="30.5" text-anchor="middle">−2</text>
<text transform="translate(1193.65 1022.43) rotate(-90)" class="tk" font-size="30.5" text-anchor="middle">−1</text>
<text transform="translate(1193.65 932.47) rotate(-90)" class="tk" font-size="30.5" text-anchor="middle">0</text>
<text transform="translate(1193.65 843.31) rotate(-90)" class="tk" font-size="30.5" text-anchor="middle">1</text>
<text transform="translate(1193.65 754.15) rotate(-90)" class="tk" font-size="30.5" text-anchor="middle">2</text>
<text x="1347.11" y="1260.05" class="tk" font-size="30.5" text-anchor="middle">−2000</text>
<text x="1532.05" y="1260.05" class="tk" font-size="30.5" text-anchor="middle">0</text>
<text x="1716.99" y="1260.05" class="tk" font-size="30.5" text-anchor="middle">2000</text>
<text x="1901.94" y="1260.05" class="tk" font-size="30.5" text-anchor="middle">4000</text>
<text x="2086.88" y="1260.05" class="tk" font-size="30.5" text-anchor="middle">6000</text>
<text id="ta" transform="translate(129.90 37.70) scale(0.9450 1)" font-size="53">(a)</text>
<text id="tA" transform="translate(212.60 37.70) scale(0.9581 1)" font-size="53">MPA age</text>
<text id="tb" transform="translate(131.20 683.50) scale(0.9500 1)" font-size="53">(b)</text>
<text id="tB" transform="translate(208.80 683.50) scale(0.9581 1)" font-size="53">MPA size</text>
<text id="tY" transform="translate(567.00 195.50) scale(0.9556 1)" font-size="53">Young (&lt;10 years)</text>
<text id="tO" transform="translate(1621.20 195.70) scale(0.9618 1)" font-size="53">Old (&gt;10 years)</text>
<text id="tS" transform="translate(589.90 844.70) scale(0.9574 1)" font-size="53">Small (&lt;3 km<tspan dx="0.0" dy="-21.8" font-size="34">2</tspan><tspan dx="2.0" dy="21.8">)</tspan></text>
<text id="tL" transform="translate(1620.50 841.90) scale(0.9588 1)" font-size="53">Large (&gt;3 km<tspan dx="1.0" dy="-21.8" font-size="34">2</tspan><tspan dx="0.5" dy="21.8">)</tspan></text>
<text id="tD" transform="translate(787.30 1351.40) scale(0.9537 1)" font-size="53">Distance from MPA border (m)</text>
<text id="tE" transform="translate(37.2 738.90) rotate(-90) scale(0.96 1)" font-size="51.3" letter-spacing="2.104">Effect size</text>
</svg></body></html>
